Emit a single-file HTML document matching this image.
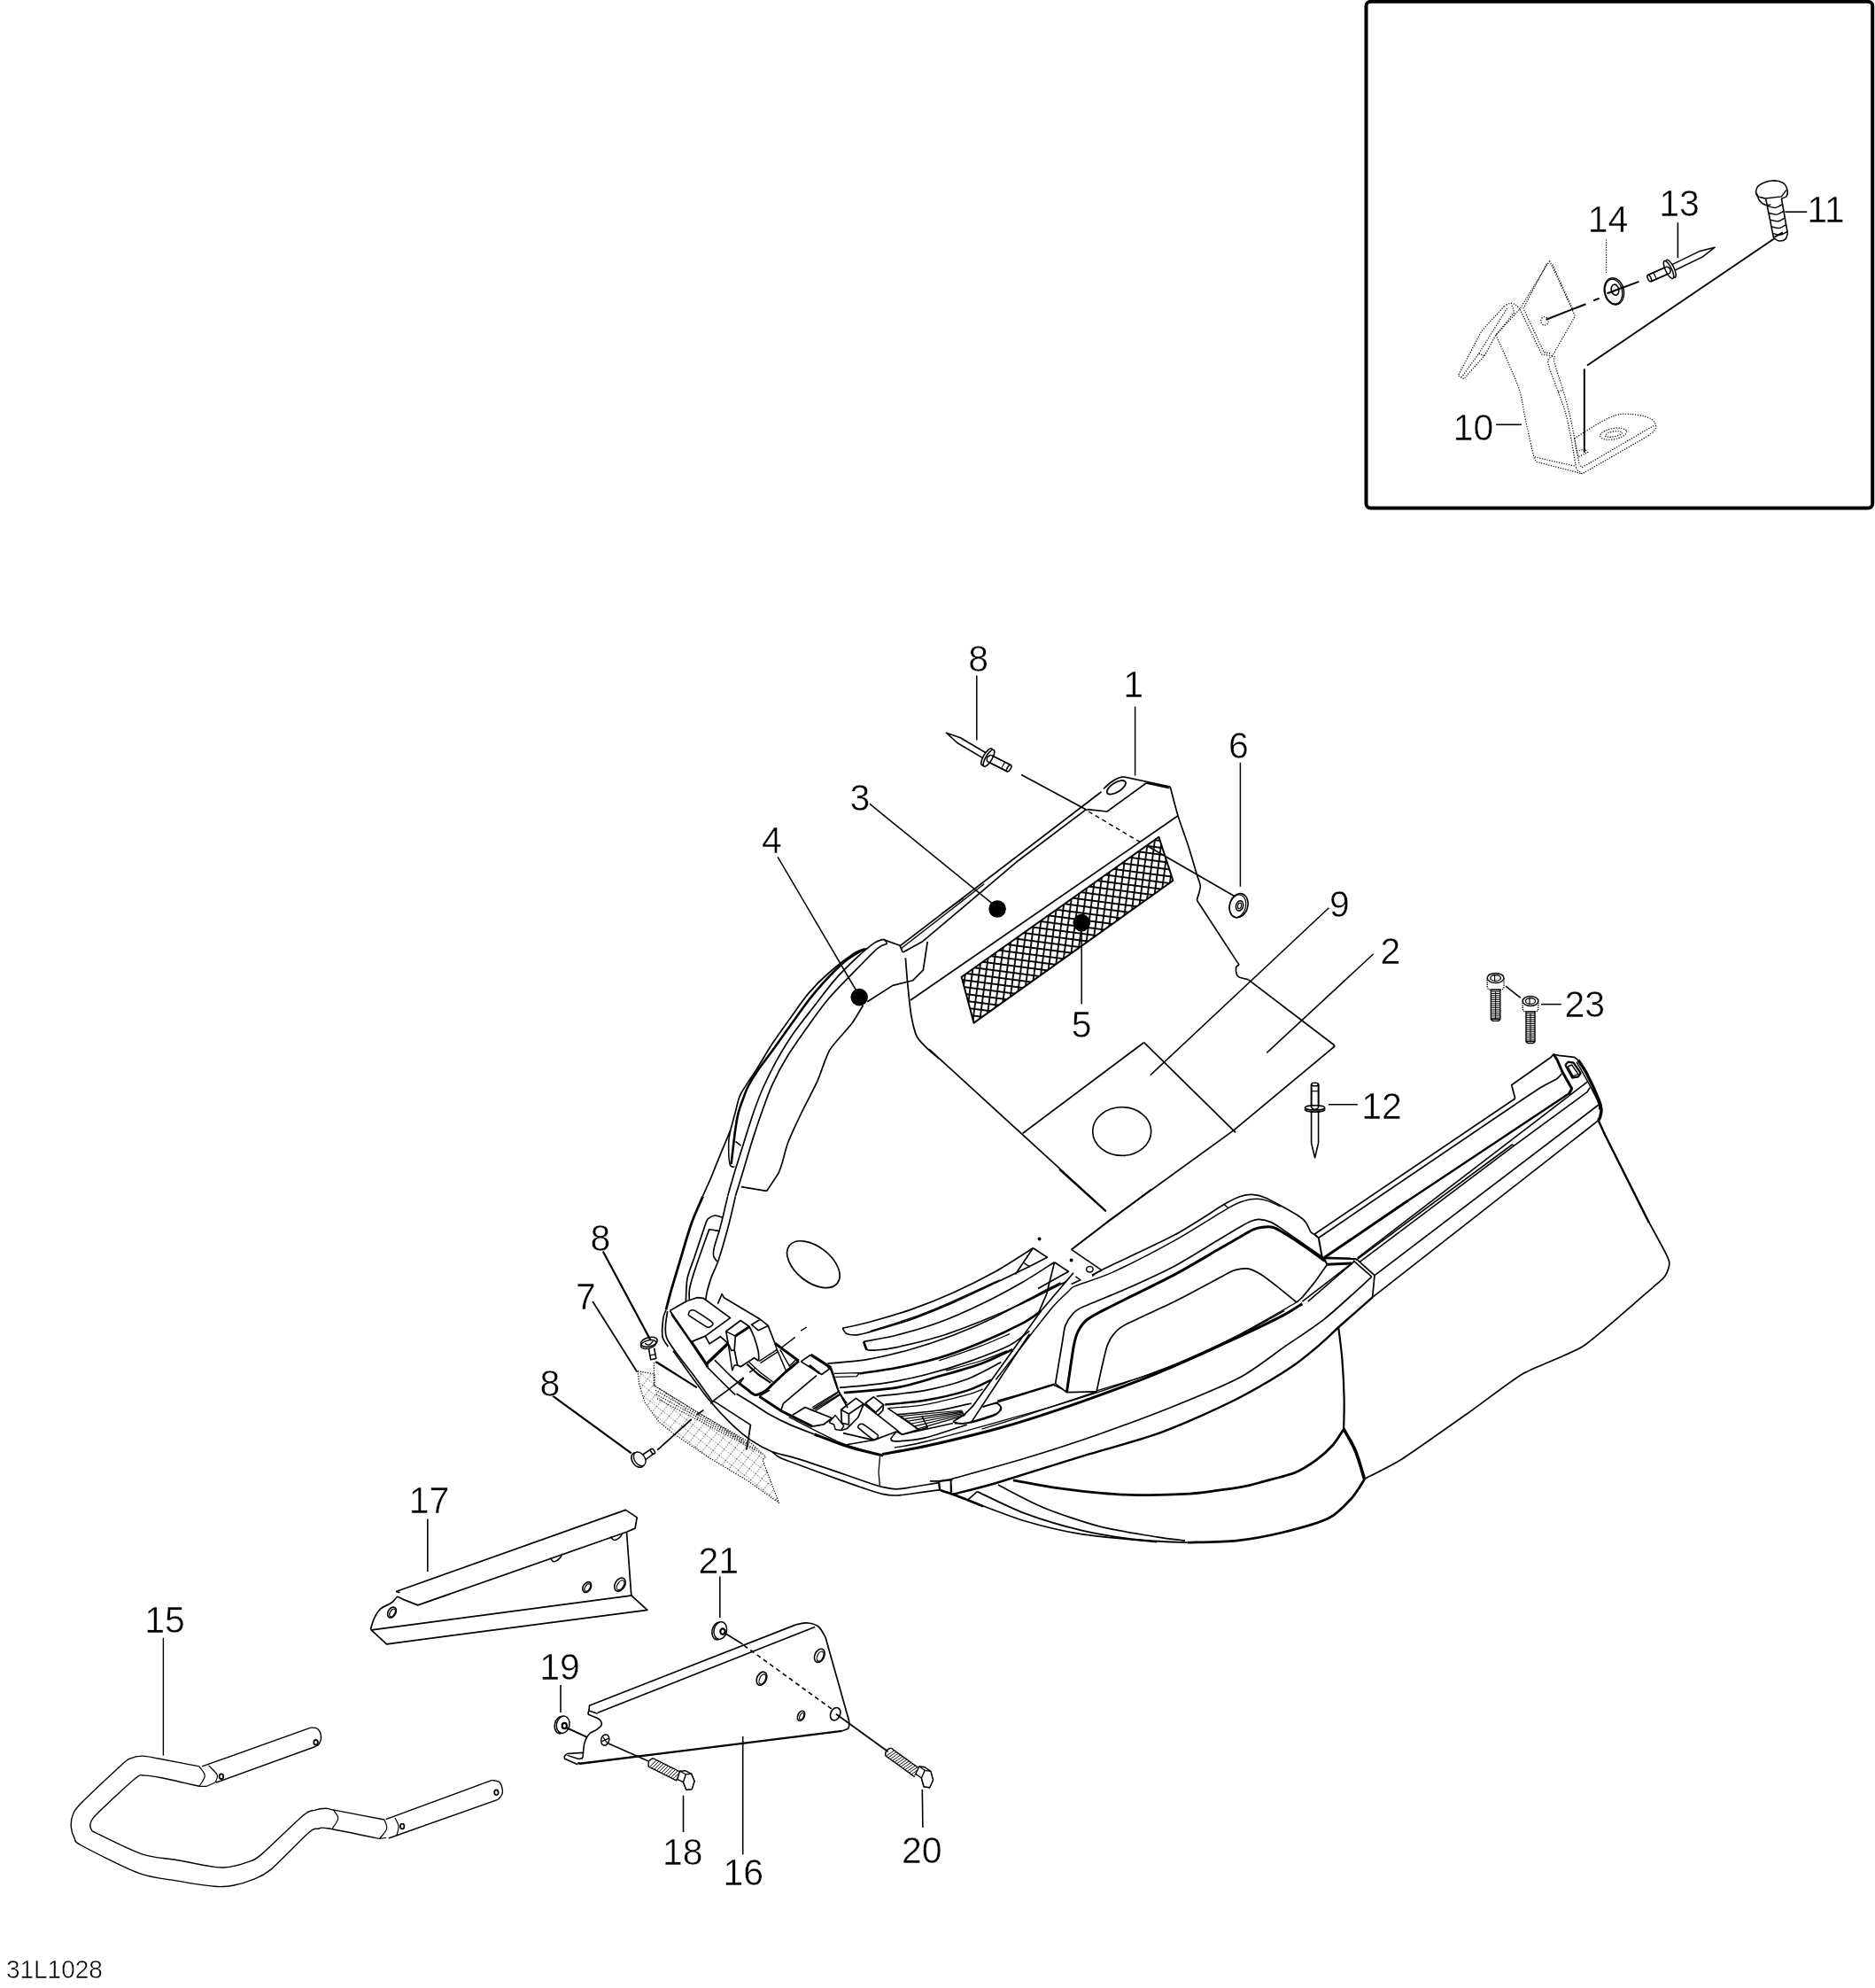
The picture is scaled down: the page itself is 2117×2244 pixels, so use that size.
<!DOCTYPE html>
<html><head><meta charset="utf-8"><title>31L1028</title>
<style>html,body{margin:0;padding:0;background:#fff}svg{display:block;will-change:transform}text{font-family:"Liberation Sans",sans-serif;fill:#000;stroke:#fff;stroke-width:0.5px}path,ellipse{stroke-linecap:butt;stroke-linejoin:round}</style></head>
<body>
<svg width="2117" height="2244" viewBox="0 0 2117 2244">
<defs>
<pattern id="mesh" width="7.7" height="7.7" patternUnits="userSpaceOnUse" patternTransform="rotate(7.5 1200 1050)">
<rect width="7.7" height="7.7" fill="#fff"/>
<path d="M0 3.85H7.7M3.85 0V7.7" stroke="#000" stroke-width="1.8" fill="none"/>
</pattern>
<pattern id="mesh7" width="9" height="9" patternUnits="userSpaceOnUse" patternTransform="rotate(38 800 1700)">
<path d="M0 0H9M0 0V9" stroke="#000" stroke-width="1.2" stroke-dasharray="1.2 1.6" fill="none"/>
</pattern>
</defs>
<rect x="1542.5" y="1.8" width="571.7" height="571.7" rx="5" ry="5" fill="none" stroke="#000" stroke-width="4"/>
<path d="M1813.6 270.4 L1813.6 309.6" fill="none" stroke="#000" stroke-width="1.2" stroke-dasharray="1.2 1.6"/>
<path d="M1894.4 251.2 L1894.4 291.2" fill="none" stroke="#000" stroke-width="1.6"/>
<ellipse cx="1822.4" cy="328.8" rx="10.9" ry="15.2" fill="none" stroke="#000" stroke-width="1.6" transform="rotate(-12 1822.4 328.8)"/>
<ellipse cx="1821.9" cy="329.1" rx="9.6" ry="14.1" fill="none" stroke="#000" stroke-width="1.2" transform="rotate(-12 1821.9 329.1)"/>
<ellipse cx="1823.5" cy="327.2" rx="4.2" ry="6.1" fill="none" stroke="#000" stroke-width="1.6" transform="rotate(-12 1823.5 327.2)"/>
<path d="M1745.6 360.8 L1790.4 343.2" fill="none" stroke="#000" stroke-width="2"/>
<path d="M1799.2 339.2 L1805.6 336.8" fill="none" stroke="#000" stroke-width="2"/>
<path d="M1814.4 331.2 L1850.4 317.9" fill="none" stroke="#000" stroke-width="2"/>
<path d="M1749.6 294.4 L1778.4 356.8 L1752.8 401.6 L1740.8 400 L1716 348.8 L1749.6 294.4" fill="none" stroke="#000" stroke-width="1.2" stroke-dasharray="1.2 1.6"/>
<path d="M1746.4 297.6 L1720 348 L1743.2 397.6 L1752 399.2" fill="none" stroke="#000" stroke-width="1.2" stroke-dasharray="1.2 1.6"/>
<path d="M1752.8 298.4 L1776 349.6" fill="none" stroke="#000" stroke-width="1.2" stroke-dasharray="1.2 1.6"/>
<ellipse cx="1744" cy="362.4" rx="4.2" ry="4.8" fill="none" stroke="#000" stroke-width="1.2" stroke-dasharray="1.2 1.6"/>
<path d="M1716 348.8 C1715.2 348 1713.1 345.1 1711.2 344 C1709.3 342.9 1706.9 342.1 1704.8 342.4 C1702.7 342.7 1699.5 345.1 1698.4 345.6" fill="none" stroke="#000" stroke-width="1.2" stroke-dasharray="1.2 1.6"/>
<path d="M1698.4 345.6 L1672.8 373.6 L1646.4 424 L1652.8 427.7 L1676 401.6 L1688.8 378.4 L1716 348.8" fill="none" stroke="#000" stroke-width="1.2" stroke-dasharray="1.2 1.6"/>
<path d="M1701.6 348 L1669.6 399.2 L1650.4 425.6" fill="none" stroke="#000" stroke-width="1.2" stroke-dasharray="1.2 1.6"/>
<path d="M1707.2 344.8 L1709.6 352.8 L1688.8 378.4" fill="none" stroke="#000" stroke-width="1.2" stroke-dasharray="1.2 1.6"/>
<path d="M1669.6 399.2 L1676 401.6" fill="none" stroke="#000" stroke-width="1.2" stroke-dasharray="1.2 1.6"/>
<path d="M1688.8 378 C1691.2 383.3 1698.7 399.3 1703.2 410 C1707.7 420.7 1712.8 431.3 1716 442 C1719.2 452.7 1719.7 461.6 1722.4 474 C1725.1 486.4 1730.4 509.3 1732 516.4" fill="none" stroke="#000" stroke-width="1.2" stroke-dasharray="1.2 1.6"/>
<path d="M1732 516.4 L1734.4 521.2 L1786.4 534.8" fill="none" stroke="#000" stroke-width="1.2" stroke-dasharray="1.2 1.6"/>
<path d="M1732.8 515.9 L1777.6 526" fill="none" stroke="#000" stroke-width="1.2" stroke-dasharray="1.2 1.6"/>
<path d="M1752.8 402 C1752 403.3 1746.9 403.3 1748 410 C1749.1 416.7 1755.6 431.3 1759.2 442 C1762.8 452.7 1766.1 459.3 1769.6 474 C1773.1 488.7 1778.3 520.7 1780 530" fill="none" stroke="#000" stroke-width="1.2" stroke-dasharray="1.2 1.6"/>
<path d="M1755.2 402 C1755.2 403.3 1753.6 403.6 1755.2 410 C1756.8 416.4 1761.7 429.7 1764.8 440.4 C1767.9 451.1 1770.5 460 1773.6 474 C1776.7 488 1781.6 516 1783.2 524.4" fill="none" stroke="#000" stroke-width="1.2" stroke-dasharray="1.2 1.6"/>
<path d="M1759.2 442 L1764.8 440.4" fill="none" stroke="#000" stroke-width="1.2" stroke-dasharray="1.2 1.6"/>
<path d="M1777.6 494.8 C1784.1 490.9 1806.5 476.2 1816.8 471.6 C1827.1 467 1831.5 467.1 1839.2 467.3 C1846.9 467.4 1858.1 469.8 1863.2 472.4 C1868.3 475 1869.9 479.6 1869.6 482.8 C1869.3 486 1862.9 490.1 1861.6 491.6" fill="none" stroke="#000" stroke-width="1.2" stroke-dasharray="1.2 1.6"/>
<path d="M1861.6 491.6 L1786.4 534.8 L1780 530" fill="none" stroke="#000" stroke-width="1.2" stroke-dasharray="1.2 1.6"/>
<path d="M1867.2 480.4 L1786.4 527.6 L1783.2 524.4" fill="none" stroke="#000" stroke-width="1.2" stroke-dasharray="1.2 1.6"/>
<path d="M1777.6 494.8 L1780 509.2" fill="none" stroke="#000" stroke-width="1.2" stroke-dasharray="1.2 1.6"/>
<ellipse cx="1821.6" cy="489.7" rx="15.2" ry="6.1" fill="none" stroke="#000" stroke-width="1.2" stroke-dasharray="1.2 1.6" transform="rotate(-10 1821.6 489.7)"/>
<ellipse cx="1821.9" cy="490" rx="9.6" ry="2.9" fill="none" stroke="#000" stroke-width="1.2" stroke-dasharray="1.2 1.6" transform="rotate(-10 1821.9 490)"/>
<path d="M1780 509.2 L1789.6 506.8 L1792.8 510.8 L1782.4 515.6 L1780 509.2" fill="none" stroke="#000" stroke-width="1.2" stroke-dasharray="1.2 1.6"/>
<path d="M1788.8 416.4 L1788.8 510.8" fill="none" stroke="#000" stroke-width="2"/>
<path d="M1792 412.5 L2003 269.5" fill="none" stroke="#000" stroke-width="2"/>
<path d="M1689.1 479.3 L1717.9 479.3" fill="none" stroke="#000" stroke-width="1.6"/>
<path d="M1883.4 300.8 L1919.3 283.4 L1936.2 279.2 L1922.4 289.9 L1886.6 307.2" fill="none" stroke="#000" stroke-width="1.5"/>
<path d="M1883.3 300.4 L1860.5 310.5" fill="none" stroke="#000" stroke-width="1.5"/>
<path d="M1886.7 307.6 L1864 317.7" fill="none" stroke="#000" stroke-width="1.5"/>
<ellipse cx="1862.3" cy="314.1" rx="1.8" ry="4" fill="#fff" stroke="#000" stroke-width="1.5" transform="rotate(154.2 1862.3 314.1)"/>
<path d="M1866.9 307.7 L1870.4 314.9" fill="none" stroke="#000" stroke-width="1.2"/>
<ellipse cx="1886.6" cy="303.2" rx="3.5" ry="10.9" fill="#fff" stroke="#000" stroke-width="1.5" transform="rotate(154.2 1886.6 303.2)"/>
<ellipse cx="1884" cy="304.5" rx="3.5" ry="10.9" fill="#fff" stroke="#000" stroke-width="1.5" transform="rotate(154.2 1884 304.5)"/>
<path d="M1860.5 310.5 L1882.3 300.9" fill="none" stroke="#000" stroke-width="1.5"/>
<path d="M1864 317.7 L1885.8 308.1" fill="none" stroke="#000" stroke-width="1.5"/>
<path d="M1882.3 300.9 C1882.9 301.3 1885.3 302.4 1885.8 303.6 C1886.4 304.8 1885.8 307.3 1885.8 308.1" fill="none" stroke="#000" stroke-width="1.5"/>
<path d="M1993 224 C1991.7 223.6 1986.7 222.9 1985 221.6 C1983.3 220.3 1982.3 218.1 1982.6 216 C1982.9 213.9 1983.5 210.8 1986.6 208.8 C1989.7 206.8 1996.6 204.4 2001 204 C2005.4 203.6 2010.2 204.8 2013 206.4 C2015.8 208 2017.1 211.1 2017.8 213.6 C2018.5 216.1 2018.1 219.9 2017 221.6 C2015.9 223.3 2012.3 223.6 2011.4 224" fill="none" stroke="#000" stroke-width="1.6"/>
<path d="M1983.4 218.4 C1983.9 219.7 1985 224.3 1986.6 226.4 C1988.2 228.5 1990.9 230.4 1993 231.2 C1995.1 232 1998.3 231.2 1999.4 231.2" fill="none" stroke="#000" stroke-width="1.6"/>
<path d="M1993 224 L2011.4 221.9 L2017 214.4" fill="none" stroke="#000" stroke-width="1.4"/>
<path d="M1993.8 224.8 L2002.6 268.8" fill="none" stroke="#000" stroke-width="1.6"/>
<path d="M2011.4 224 L2018.3 263.2" fill="none" stroke="#000" stroke-width="1.6"/>
<path d="M2002.6 268.8 C2003.7 269.3 2006.7 271.9 2009 272 C2011.3 272.1 2014.7 271.1 2016.2 269.6 C2017.7 268.1 2017.9 264.3 2018.3 263.2" fill="none" stroke="#000" stroke-width="1.6"/>
<path d="M1995.9 232.8 C1997.3 233.1 2001.9 234.8 2004.7 234.4 C2007.5 234 2011.3 231.1 2012.7 230.4" fill="none" stroke="#000" stroke-width="1.4"/>
<path d="M1997.3 240.5 C1998.8 240.7 2003.3 242.5 2006.1 242.1 C2008.9 241.7 2012.8 238.7 2014.1 238.1" fill="none" stroke="#000" stroke-width="1.4"/>
<path d="M1998.8 248.2 C2000.2 248.4 2004.8 250.2 2007.6 249.8 C2010.4 249.4 2014.2 246.4 2015.6 245.8" fill="none" stroke="#000" stroke-width="1.4"/>
<path d="M2000.2 255.8 C2001.7 256.1 2006.2 257.8 2009 257.4 C2011.8 257 2015.7 254.1 2017 253.4" fill="none" stroke="#000" stroke-width="1.4"/>
<path d="M2001.6 263.5 C2003.1 263.8 2007.6 265.5 2010.4 265.1 C2013.2 264.7 2017.1 261.8 2018.4 261.1" fill="none" stroke="#000" stroke-width="1.4"/>
<path d="M2003.4 267.7 L2013 262.4" fill="none" stroke="#000" stroke-width="2"/>
<path d="M2015.4 239.2 L2040.2 239.2" fill="none" stroke="#000" stroke-width="1.6"/>
<path d="M1016.3 1067.6 L1243.5 893.7" fill="none" stroke="#000" stroke-width="1.7"/>
<path d="M1246 890.4 C1247.3 889.2 1251.3 885.2 1254 883.2 C1256.7 881.2 1259.6 879.5 1262 878.4 C1264.4 877.3 1267.3 877.1 1268.4 876.8" fill="none" stroke="#000" stroke-width="1.7"/>
<path d="M1268.4 876.8 L1321.2 888" fill="none" stroke="#000" stroke-width="1.7"/>
<path d="M1019.5 1075.1 L1042 1062.4 L1080 1030.4 L1150 971.2 L1226.4 913.6" fill="none" stroke="#000" stroke-width="1.7"/>
<path d="M1227.6 913.6 L1250 916 L1294 884 L1320.4 889.6" fill="none" stroke="#000" stroke-width="1.7"/>
<path d="M1294.8 883.7 L1319.6 888" fill="none" stroke="#000" stroke-width="1.2"/>
<path d="M1017.3 1070.8 L1111.2 997.8" fill="none" stroke="#000" stroke-width="1.4"/>
<path d="M1063.2 1031.3 L1087.7 1013.8" fill="none" stroke="#000" stroke-width="1.4"/>
<ellipse cx="1260.4" cy="888.8" rx="12" ry="5.3" fill="none" stroke="#000" stroke-width="1.8" transform="rotate(-32 1260.4 888.8)"/>
<path d="M1321.2 888 C1322.4 892.4 1327.2 911.7 1330 920.8 C1332.8 929.9 1339.1 947 1342 956 C1344.9 965 1349.8 982 1351.6 988 C1353.4 994 1355.3 997.1 1355.3 1000.8 C1355.2 1004.5 1351.8 1014 1351.3 1016" fill="none" stroke="#000" stroke-width="1.7"/>
<path d="M1351.3 1016 L1397.2 1086.4" fill="none" stroke="#000" stroke-width="1.7"/>
<path d="M1397.2 1086.4 C1397.4 1086.7 1399 1088.1 1398.8 1088.8 C1398.6 1089.5 1395.9 1090.5 1395.6 1092 C1395.3 1093.5 1395.9 1098.5 1396.4 1100 C1396.9 1101.5 1397.9 1102.5 1399.6 1103.2 C1401.3 1103.9 1407.9 1105.3 1409.2 1105.6" fill="none" stroke="#000" stroke-width="1.7"/>
<path d="M1409.2 1105.6 L1506.8 1180" fill="none" stroke="#000" stroke-width="1.7"/>
<path d="M1330 920.8 L1028 1129" fill="none" stroke="#000" stroke-width="1.7"/>
<path d="M1308.4 944.8 L1324.4 994 L1099.5 1154.6 L1085.6 1102.8 Z" fill="url(#mesh)" stroke="#000" stroke-width="2"/>
<circle cx="1126.1" cy="1026" r="9.8" fill="#000"/>
<circle cx="1221.2" cy="1041.6" r="9.8" fill="#000"/>
<circle cx="970.2" cy="1125.6" r="9.8" fill="#000"/>
<path d="M996.8 1060.4 L1016 1067.3 L1019.2 1074.8" fill="none" stroke="#000" stroke-width="1.7"/>
<path d="M998.4 1059.9 L1001.6 1065.2" fill="none" stroke="#000" stroke-width="1.4"/>
<path d="M979.2 1070.8 C977.1 1071.5 973.6 1070.3 966.4 1074.8 C959.2 1079.3 944.8 1090.4 936 1098 C927.2 1105.6 921.1 1111.6 913.6 1120.4 C906.1 1129.2 898.1 1141.2 891.2 1150.8 C884.3 1160.4 878.1 1168.7 872 1178 C865.9 1187.3 859.2 1199.2 854.4 1206.8 C849.6 1214.4 846.4 1218.5 843.2 1223.6 C840 1228.7 837.3 1232 835.2 1237.2 C833.1 1242.4 832.1 1248.4 830.4 1254.8 C828.7 1261.2 825.7 1272.1 824.8 1275.6" fill="none" stroke="#000" stroke-width="1.7"/>
<path d="M824.8 1275.6 L812.8 1304.4 L803.2 1328.4 L793.6 1350" fill="none" stroke="#000" stroke-width="1.7"/>
<path d="M824.8 1275.6 C824.5 1278 822.9 1283.6 822.7 1290 C822.6 1296.4 822.9 1309.5 824 1314 C825.1 1318.5 828.7 1316.7 829.6 1317.2" fill="none" stroke="#000" stroke-width="1.5"/>
<path d="M976 1071.1 C972 1073.7 961.3 1078.6 952 1086.8 C942.7 1095 929.3 1109.5 920 1120.4 C910.7 1131.3 904 1141.5 896 1152.4 C888 1163.3 878.9 1176.4 872 1186 C865.1 1195.6 858.9 1203.3 854.4 1210 C849.9 1216.7 847.5 1220.7 844.8 1226 C842.1 1231.3 840.3 1236.9 838.4 1242 C836.5 1247.1 834.9 1251.1 833.6 1256.4 C832.3 1261.7 831.3 1267.9 830.4 1274 C829.5 1280.1 828.8 1286.5 828 1293.2 C827.2 1299.9 826 1310.5 825.6 1314" fill="none" stroke="#000" stroke-width="2.6"/>
<path d="M996.8 1060.4 C995.2 1061.1 992 1061.1 987.2 1064.4 C982.4 1067.7 975.2 1073.7 968 1080.4 C960.8 1087.1 952 1095.3 944 1104.4 C936 1113.5 928.3 1124.1 920 1134.8 C911.7 1145.5 901.6 1158 894.4 1168.4 C887.2 1178.8 882.1 1187.6 876.8 1197.2 C871.5 1206.8 866.4 1217.2 862.4 1226 C858.4 1234.8 855.7 1242 852.8 1250 C849.9 1258 847.5 1265.7 844.8 1274 C842.1 1282.3 839.5 1291.1 836.8 1299.6 C834.1 1308.1 831.3 1316.8 828.8 1325.2 C826.3 1333.6 822.8 1345.9 821.6 1350" fill="none" stroke="#000" stroke-width="1.7"/>
<path d="M1001.6 1065.2 C999.7 1066.1 996 1066.1 990.4 1070.8 C984.8 1075.5 977.1 1083.9 968 1093.2 C958.9 1102.5 945.3 1115.9 936 1126.8 C926.7 1137.7 920 1147.6 912 1158.8 C904 1170 894.7 1183.1 888 1194 C881.3 1204.9 876.8 1213.7 872 1224.4 C867.2 1235.1 862.9 1247.6 859.2 1258 C855.5 1268.4 852.8 1276.7 849.6 1286.8 C846.4 1296.9 843.2 1308.3 840 1318.8 C836.8 1329.3 832 1344.8 830.4 1350" fill="none" stroke="#000" stroke-width="1.7"/>
<path d="M830.4 1288.4 L836.5 1293.2" fill="none" stroke="#000" stroke-width="1.5"/>
<path d="M974.4 1134.8 C972.9 1137.2 966 1149.7 961.6 1155.6 C957.2 1161.5 941.3 1177.7 936.8 1185.2 C932.3 1192.7 927 1211.1 923.2 1219.6 C919.4 1228.1 907.9 1249.8 904 1258 C900.1 1266.2 892 1283.7 889.6 1290 C887.2 1296.3 884.5 1308.3 883.2 1312.4 C881.9 1316.5 880.5 1321.5 878.4 1325.2 C876.3 1328.9 867.1 1342.2 865.6 1344.4" fill="none" stroke="#000" stroke-width="1.7"/>
<path d="M865.6 1344.4 L836.8 1339.6" fill="none" stroke="#000" stroke-width="1.7"/>
<path d="M979.2 1130.8 L1008 1112.4 L1030.4 1106.8 L1042.4 1094.8 L1047.2 1062.8" fill="none" stroke="#000" stroke-width="1.7"/>
<path d="M1022.4 1081.2 C1022.7 1085.1 1023.9 1102.2 1024.8 1110.8 C1025.7 1119.4 1027.4 1138.1 1028.8 1146 C1030.2 1153.9 1032.6 1164.9 1035.2 1170 C1037.8 1175.1 1044.7 1181.1 1048 1184.4 C1051.3 1187.7 1058.4 1193.4 1060 1194.8" fill="none" stroke="#000" stroke-width="1.7"/>
<path d="M1049.1 1184.3 L1248.5 1366.7" fill="none" stroke="#000" stroke-width="1.7"/>
<path d="M793.6 1350.4 C791.5 1355.5 785.1 1368.8 780.8 1380.8 C776.5 1392.8 771.7 1410.1 768 1422.4 C764.3 1434.7 761.1 1445.1 758.4 1454.4 C755.7 1463.7 753.1 1474.4 752 1478.4" fill="none" stroke="#000" stroke-width="2.8"/>
<path d="M752 1478.4 C751.6 1479.7 749.3 1483.9 748.8 1488 C748.3 1492.1 747.3 1504.5 748 1508.8 C748.7 1513.1 753.5 1518.5 754.4 1520" fill="none" stroke="#000" stroke-width="1.7"/>
<path d="M753.6 1480 C753.5 1484.1 748.7 1500.6 752.8 1510.4 C756.9 1520.2 777.1 1544 784 1553.6 C790.9 1563.2 802 1578.6 804.8 1582.4" fill="none" stroke="#000" stroke-width="1.7"/>
<path d="M821.6 1350.4 L816 1374.4" fill="none" stroke="#000" stroke-width="1.7"/>
<path d="M816 1374.4 C814.8 1374.1 809.4 1371.8 807.2 1372 C805 1372.2 800.8 1374.2 799.2 1376 C797.6 1377.8 797.2 1379.8 795.2 1385.6 C793.2 1391.4 786.6 1411.5 784 1419.2 C781.4 1426.9 777.3 1436.6 776 1443.2 C774.7 1449.8 774.6 1465.4 774.4 1468.8" fill="none" stroke="#000" stroke-width="1.7"/>
<path d="M812 1389.6 C810.6 1389.4 803.3 1387.7 801.6 1388 C799.9 1388.3 801.5 1385.7 799.2 1392 C796.9 1398.3 786.8 1426.7 784 1435.2 C781.2 1443.7 779.1 1451.6 778.4 1456 C777.7 1460.4 778.4 1466.4 778.4 1468" fill="none" stroke="#000" stroke-width="1.7"/>
<path d="M816 1374.4 C815.5 1376.4 813.3 1385.1 812 1389.6 C810.7 1394.1 807.3 1404.3 806.4 1408 C805.5 1411.7 805.2 1415.5 805.6 1417.6 C806 1419.7 809.1 1423.1 809.6 1424" fill="none" stroke="#000" stroke-width="1.7"/>
<path d="M830.4 1350.4 C829.3 1354.9 825 1374.4 822.4 1384 C819.8 1393.6 813.8 1414.7 811.2 1422.4 C808.6 1430.1 804.9 1436.9 803.2 1441.6 C801.5 1446.3 799.3 1454.2 798.4 1457.6 C797.5 1461 797 1465.9 796.8 1467.2" fill="none" stroke="#000" stroke-width="1.7"/>
<ellipse cx="918.4" cy="1427.2" rx="34.4" ry="20" fill="none" stroke="#000" stroke-width="1.7" transform="rotate(38 918.4 1427.2)"/>
<path d="M756.4 1479.4 L775.2 1468.8 L786.9 1464.7 L794 1465.3 L824.5 1487.6 L796.3 1508.1 L780.5 1514.6 L756.4 1479.4" fill="none" stroke="#000" stroke-width="1.7"/>
<path d="M777.5 1482.9 C777.6 1482.4 778.7 1479.7 779.3 1479.4 C779.9 1479.1 782.5 1478.3 784.6 1479.4 C786.6 1480.4 802.3 1490.9 803.9 1492.3 C805.6 1493.6 805 1494.7 804.8 1495.2 C804.5 1495.7 801.6 1497.9 801 1498.1 C800.4 1498.3 799.4 1498.6 797.5 1497.5 C795.6 1496.5 779.8 1486.4 778.1 1485.2 C776.5 1484 777.4 1483.4 777.5 1482.9Z" fill="none" stroke="#000" stroke-width="1.6"/>
<path d="M780.5 1514.6 L797.5 1539.8 L798.7 1543.3" fill="none" stroke="#000" stroke-width="3.2"/>
<path d="M797.5 1539.8 L822.1 1516.3" fill="none" stroke="#000" stroke-width="3.4"/>
<path d="M796.3 1508.1 L801 1516.9 L813.3 1508.7 L822.1 1516.3" fill="none" stroke="#000" stroke-width="1.7"/>
<path d="M757.6 1483.5 L779.9 1515.1" fill="none" stroke="#000" stroke-width="1.3"/>
<path d="M822.1 1516.3 L819.8 1502.8 L836.2 1490.5 L846.2 1497.5 L830.3 1508.1 L829.2 1523.9 L825.7 1524.5 L822.1 1516.3" fill="none" stroke="#000" stroke-width="1.7"/>
<path d="M819.8 1502.8 L830.3 1508.1" fill="none" stroke="#000" stroke-width="1.4"/>
<path d="M830.3 1508.1 L846.2 1497.5" fill="none" stroke="#000" stroke-width="3"/>
<path d="M846.2 1497.5 C846.9 1499.1 850.1 1505.5 851.5 1509.3 C852.8 1513 855.5 1522.3 856.2 1525.7 C856.9 1529.1 856.7 1533.8 856.7 1535.1" fill="none" stroke="#000" stroke-width="1.7"/>
<path d="M829.2 1523.9 L832.7 1541 L836.2 1542.7 L851.5 1532.7 L856.7 1536.3" fill="none" stroke="#000" stroke-width="1.7"/>
<path d="M822.1 1516.3 L826.8 1546.8 L829.2 1541 L832.7 1541" fill="none" stroke="#000" stroke-width="1.5"/>
<path d="M810.4 1471.7 L815.1 1460.6 L817.4 1464.7 L858.5 1489.3 L867.3 1496.4 L874.9 1516.3" fill="none" stroke="#000" stroke-width="1.7"/>
<path d="M858.5 1489.3 L848.5 1495.2 L856.2 1501.7 L867.3 1496.4" fill="none" stroke="#000" stroke-width="1.7"/>
<path d="M874.9 1516.3 L901.9 1536.3" fill="none" stroke="#000" stroke-width="3"/>
<path d="M874.9 1516.3 L877.3 1523.4 L887.8 1548" fill="none" stroke="#000" stroke-width="1.5"/>
<path d="M877.3 1523.4 L857.3 1536.3" fill="none" stroke="#000" stroke-width="1.4"/>
<path d="M878.5 1525.7 L858.5 1538.6" fill="none" stroke="#000" stroke-width="1.4"/>
<path d="M880.8 1523.4 L891.4 1542.1 L898.4 1535.1" fill="none" stroke="#000" stroke-width="1.4"/>
<path d="M798.7 1543.3 C801.1 1545.8 820.1 1564.8 823.3 1567.9 C826.5 1571.1 829.6 1573.8 830.3 1574.4" fill="none" stroke="#000" stroke-width="1.7"/>
<path d="M831.5 1573.2 C834.2 1574.9 846.5 1582.4 851.5 1585.5 C856.5 1588.7 863.6 1593.6 869.1 1596.7 C874.5 1599.7 885.8 1605.5 892.5 1608.4 C899.3 1611.4 915.9 1617.6 919.5 1619" fill="none" stroke="#000" stroke-width="1.7"/>
<path d="M919.5 1619 C922.2 1620 934.1 1624.7 939.5 1626.6 C944.9 1628.6 952.3 1631.5 960 1633.7 C967.7 1635.8 992 1641.8 997 1643" fill="none" stroke="#000" stroke-width="3"/>
<path d="M806.9 1535.1 C809.4 1537.6 822.1 1550.4 825.7 1553.9 C829.3 1557.3 832.8 1560 833.9 1560.9" fill="none" stroke="#000" stroke-width="1.7"/>
<path d="M833.9 1560.9 C835.3 1562 840.4 1565.9 843.3 1567.9 C846.1 1570 849.5 1574.1 852.6 1574.4 C855.8 1574.7 861.4 1571.6 864.4 1569.7 C867.4 1567.9 871.4 1563.2 872.6 1562.1" fill="none" stroke="#000" stroke-width="3"/>
<path d="M872.6 1562.1 L887.8 1548 L901.9 1536.3" fill="none" stroke="#000" stroke-width="3"/>
<path d="M843.3 1539.8 L856.2 1551.5 L870.2 1560.9" fill="none" stroke="#000" stroke-width="2.2"/>
<path d="M845.6 1537.4 L858.5 1549.2 L872.6 1559.7" fill="none" stroke="#000" stroke-width="1.4"/>
<path d="M805.7 1580.9 L823.3 1567.9 L839.7 1555" fill="none" stroke="#000" stroke-width="1.7"/>
<path d="M904.3 1536.9 L915.4 1529.2" fill="none" stroke="#000" stroke-width="1.7"/>
<path d="M915.4 1529.2 L938.3 1543.9" fill="none" stroke="#000" stroke-width="3.2"/>
<path d="M938.3 1543.9 L927.7 1551.5 L904.3 1536.9" fill="none" stroke="#000" stroke-width="1.7"/>
<path d="M913.7 1541 L925.4 1550.3" fill="none" stroke="#000" stroke-width="2.4"/>
<path d="M938.3 1543.9 C938.8 1545.2 940.7 1550.5 941.8 1553.9 C942.9 1557.2 945.3 1565.8 946.5 1569.1 C947.8 1572.4 949.8 1575.8 951.2 1578.5 C952.6 1581.2 956.3 1587.7 957.1 1589.1" fill="none" stroke="#000" stroke-width="1.7"/>
<path d="M921.9 1552.7 L884.3 1584.4 L882 1591.4" fill="none" stroke="#000" stroke-width="1.7"/>
<path d="M857.3 1576.2 L882 1592.6 L917.2 1610.2" fill="none" stroke="#000" stroke-width="3"/>
<path d="M857.3 1576.2 L869.1 1569.1" fill="none" stroke="#000" stroke-width="1.5"/>
<path d="M917.2 1610.2 L930.1 1607.8 L939.5 1600.8 L916 1591.4 L909 1588.5 L894.9 1597.3" fill="none" stroke="#000" stroke-width="1.7"/>
<path d="M917.2 1588.5 L946.5 1570.9" fill="none" stroke="#000" stroke-width="1.4"/>
<path d="M919.5 1590.8 L948.9 1573.2" fill="none" stroke="#000" stroke-width="1.4"/>
<path d="M741.2 1536.9 L786.9 1566.2" fill="none" stroke="#000" stroke-width="1.7"/>
<path d="M802.2 1584.4 L805.7 1581.4 L847.4 1608.4 L845 1624.3 L842.7 1636.6" fill="none" stroke="#000" stroke-width="1.7"/>
<path d="M904.3 1502.2 L910.7 1498.1" fill="none" stroke="#000" stroke-width="1.5"/>
<path d="M882.6 1521 L897.8 1509.3" fill="none" stroke="#000" stroke-width="1.5"/>
<path d="M846.2 1549.2 L852.6 1544.5" fill="none" stroke="#000" stroke-width="1.5"/>
<path d="M835.6 1560.9 L839.7 1555.6" fill="none" stroke="#000" stroke-width="1.5"/>
<path d="M934.4 1543.2 C934.9 1543.7 936.8 1543.7 938.4 1547.2 C940 1550.7 944.1 1564.7 946.4 1569.6 C948.7 1574.5 954.7 1582.1 956 1584" fill="none" stroke="#000" stroke-width="1.7"/>
<path d="M917.6 1590.4 L946.4 1572" fill="none" stroke="#000" stroke-width="1.4"/>
<path d="M920 1592.8 L948 1574.7" fill="none" stroke="#000" stroke-width="1.4"/>
<path d="M949.6 1591.2 L966.4 1578.4 L975.2 1584.8 L958.4 1596 L949.6 1591.2 L950.4 1606.4 L958.4 1608 L958.4 1596" fill="none" stroke="#000" stroke-width="1.7"/>
<path d="M936 1605.6 L943.2 1597.6 L952.8 1609.6 L949.6 1614.4 L943.2 1613.6 L941.6 1608 L936 1605.6" fill="none" stroke="#000" stroke-width="1.5"/>
<path d="M976.8 1584 L986.4 1576.8 L997.6 1585.6 L988.8 1594.4 L976.8 1584" fill="none" stroke="#000" stroke-width="1.7"/>
<path d="M997.6 1585.6 L996.8 1592 L991.2 1597.6" fill="none" stroke="#000" stroke-width="1.7"/>
<path d="M975.2 1584.8 L1012 1613.6" fill="none" stroke="#000" stroke-width="1.7"/>
<path d="M1002.4 1589.6 L1037.6 1613.6 L1018.4 1619.2 L1012 1613.6" fill="none" stroke="#000" stroke-width="1.7"/>
<path d="M968.8 1611.2 C967.7 1609.8 970.7 1607.8 971.2 1607.5 C971.7 1607.3 973.5 1607 975.2 1608 C976.9 1609 990 1618.7 991.2 1620 C992.4 1621.3 990.1 1623.6 989.6 1624 C989.1 1624.4 986.5 1625.4 984.8 1624.3 C983.1 1623.3 969.9 1612.6 968.8 1611.2Z" fill="none" stroke="#000" stroke-width="1.6"/>
<path d="M956 1612.8 L968.8 1600 L975.2 1584.8" fill="none" stroke="#000" stroke-width="1.7"/>
<path d="M952 1617.6 L986.4 1625.6 L1012 1616" fill="none" stroke="#000" stroke-width="1.7"/>
<path d="M952.8 1631.2 L986.4 1625.6" fill="none" stroke="#000" stroke-width="1.5"/>
<path d="M949.6 1614.4 L956 1612.8" fill="none" stroke="#000" stroke-width="1.5"/>
<path d="M951.2 1499.2 C955 1498.3 969.8 1495.6 980 1492.8 C990.2 1490 1015.2 1482.9 1028 1478.4 C1040.8 1473.9 1063.2 1465 1076 1459.2 C1088.8 1453.4 1111.9 1441.9 1124 1435.2 C1136.1 1428.5 1160.7 1412.3 1166.4 1408.8" fill="none" stroke="#000" stroke-width="1.7"/>
<path d="M951.2 1499.2 C951.8 1500.1 953.9 1504.6 956 1505.6 C958.1 1506.6 964 1507.1 967.2 1506.9 C970.4 1506.7 971.9 1506.3 980 1504 C988.1 1501.7 1015.2 1494.1 1028 1489.6 C1040.8 1485.1 1063.2 1475.9 1076 1470.4 C1088.8 1464.9 1112.5 1453.4 1124 1448 C1135.5 1442.6 1157.3 1432.1 1162.4 1429.6" fill="none" stroke="#000" stroke-width="1.7"/>
<path d="M983.2 1502.4 C989.8 1500.3 1020.4 1490.9 1032.8 1486.4 C1045.2 1481.9 1063.2 1474.3 1076 1468.8 C1088.8 1463.3 1121.8 1448 1128.8 1444.8" fill="none" stroke="#000" stroke-width="1.4"/>
<path d="M1166.4 1408.8 L1182.4 1419.2 L1162.4 1429.6 L1156 1425.6" fill="none" stroke="#000" stroke-width="1.7"/>
<path d="M1166.4 1408.8 L1146.4 1438.4" fill="none" stroke="#000" stroke-width="1.7"/>
<path d="M975.2 1514.4 C980.1 1513.4 1000.7 1510.1 1012 1507.2 C1023.3 1504.3 1047.2 1497.5 1060 1492.8 C1072.8 1488.1 1095.2 1478.2 1108 1472 C1120.8 1465.8 1145 1452.7 1156 1446.4 C1167 1440.1 1185.8 1427.7 1190.4 1424.8" fill="none" stroke="#000" stroke-width="1.7"/>
<path d="M975.2 1514.4 C975.6 1515.6 976.5 1521.9 978.4 1523.2 C980.3 1524.5 985.1 1524.3 989.6 1524 C994.1 1523.7 1002.6 1522.8 1012 1520.8 C1021.4 1518.8 1047.2 1512.7 1060 1508.8 C1072.8 1504.9 1095.2 1496.3 1108 1491.2 C1120.8 1486.1 1143.2 1476.4 1156 1470.4 C1168.8 1464.4 1197.6 1449.6 1204 1446.4" fill="none" stroke="#000" stroke-width="1.7"/>
<path d="M975.2 1514.4 L978.4 1523.2" fill="none" stroke="#000" stroke-width="2.6"/>
<path d="M1190.4 1424.8 L1206.4 1435.2 L1172 1454.4" fill="none" stroke="#000" stroke-width="1.7"/>
<path d="M1190.4 1425.6 L1181.6 1460.8 L1172 1483.2" fill="none" stroke="#000" stroke-width="1.7"/>
<path d="M934.4 1539.2 C940.5 1538.6 967.5 1536.5 980 1534.4 C992.5 1532.3 1015.2 1526.8 1028 1523.2 C1040.8 1519.6 1063.2 1512.1 1076 1507.2 C1088.8 1502.3 1110.8 1492.8 1124 1486.4 C1137.2 1480 1165.4 1464.3 1175.2 1459.2 C1185 1454.1 1194.6 1449.5 1197.6 1448" fill="none" stroke="#000" stroke-width="1.7"/>
<path d="M970.4 1550.4 C975.9 1549.5 1000.1 1546.3 1012 1544 C1023.9 1541.7 1047.2 1536.6 1060 1532.8 C1072.8 1529 1095.2 1520.5 1108 1515.2 C1120.8 1509.9 1147 1497.5 1156 1492.8 C1165 1488.1 1172.6 1481.7 1175.2 1480" fill="none" stroke="#000" stroke-width="2.6"/>
<path d="M941.6 1550.4 L970.4 1549.6 L967.2 1553.6 L943.2 1554.4" fill="none" stroke="#000" stroke-width="1.4"/>
<path d="M1060 1536 C1066.4 1533.8 1097.3 1523.3 1108 1519.2 C1118.7 1515.1 1135.7 1507.4 1140 1505.6" fill="none" stroke="#000" stroke-width="1.3"/>
<path d="M948 1566.4 C954.4 1565.8 983.2 1563.5 996 1561.6 C1008.8 1559.7 1031.2 1555.2 1044 1552 C1056.8 1548.8 1079.2 1542.1 1092 1537.6 C1104.8 1533.1 1130.6 1523.1 1140 1518.4 C1149.4 1513.7 1159.4 1504.5 1162.4 1502.4" fill="none" stroke="#000" stroke-width="1.7"/>
<path d="M952.8 1572 C960.7 1571.3 997.7 1568.9 1012 1566.4 C1026.3 1563.9 1047.2 1557.2 1060 1553.6 C1072.8 1550 1096.9 1543.3 1108 1539.2 C1119.1 1535.1 1138.5 1525.3 1143.2 1523.2" fill="none" stroke="#000" stroke-width="2.6"/>
<path d="M1068 1547.2 C1073.3 1545.7 1098.8 1539 1108 1536 C1117.2 1533 1133 1526.3 1136.8 1524.8" fill="none" stroke="#000" stroke-width="1.3"/>
<path d="M989.6 1576 C996.9 1575.1 1030.3 1572.2 1044 1569.6 C1057.7 1567 1080.5 1561.1 1092 1556.8 C1103.5 1552.5 1125.3 1540.2 1130.4 1537.6" fill="none" stroke="#000" stroke-width="1.7"/>
<path d="M999.2 1585.6 C1005.2 1585 1031.6 1582.9 1044 1580.8 C1056.4 1578.7 1082 1572.7 1092 1569.6 C1102 1566.5 1115.6 1559.2 1119.2 1557.6" fill="none" stroke="#000" stroke-width="2.4"/>
<path d="M1002.4 1589.6 C1007.9 1589.1 1032.1 1587.6 1044 1585.6 C1055.9 1583.6 1083.3 1576.7 1092 1574.4 C1100.7 1572.1 1107.3 1568.9 1109.6 1568" fill="none" stroke="#000" stroke-width="1.4"/>
<path d="M1012 1596.8 C1018.4 1596.2 1048.7 1593.7 1060 1592 C1071.3 1590.3 1091.9 1585.1 1096.8 1584" fill="none" stroke="#000" stroke-width="1.7"/>
<path d="M1018.4 1598.4 L1086.4 1592" fill="none" stroke="#000" stroke-width="1.2"/>
<path d="M1021.9 1601.3 L1087 1593.1" fill="none" stroke="#000" stroke-width="1.2"/>
<path d="M1025.4 1604.2 L1087.7 1594.2" fill="none" stroke="#000" stroke-width="1.2"/>
<path d="M1029 1607 L1088.3 1595.4" fill="none" stroke="#000" stroke-width="1.2"/>
<path d="M1032.5 1609.9 L1089 1596.5" fill="none" stroke="#000" stroke-width="1.2"/>
<path d="M1036 1612.8 L1089.6 1597.6" fill="none" stroke="#000" stroke-width="1.2"/>
<path d="M1016.8 1598.4 L1037.6 1614.4 L1047.2 1611.2 L1040.8 1598.4" fill="none" stroke="#000" stroke-width="1.5"/>
<path d="M1212 1436.8 L1175.2 1480 L1098.4 1587.2 L1088.8 1596.8 L1076 1604.8" fill="none" stroke="#000" stroke-width="1.7"/>
<path d="M1162.4 1505.6 L1096 1606.4" fill="none" stroke="#000" stroke-width="1.7"/>
<path d="M1076 1604.8 C1077.7 1605.1 1082.6 1607.8 1088.8 1606.7 C1095 1605.7 1116.9 1599 1122.4 1596.8 C1127.9 1594.6 1130 1592.1 1130.4 1590.4 C1130.8 1588.7 1128.4 1584.3 1125.6 1584 C1122.8 1583.7 1111.7 1587.5 1109.6 1588" fill="none" stroke="#000" stroke-width="1.7"/>
<path d="M1109.6 1588 L1189.6 1563.2 L1200 1568" fill="none" stroke="#000" stroke-width="1.7"/>
<path d="M1005.6 1624 C1006.2 1624.4 1005.3 1627 1010.4 1626.9 C1015.5 1626.8 1033.1 1625.7 1044 1623.2 C1054.9 1620.7 1085.6 1610 1092 1608" fill="none" stroke="#000" stroke-width="1.7"/>
<path d="M1005.6 1624 L1012 1616 L1018.4 1619.2 L1076 1606.4" fill="none" stroke="#000" stroke-width="1.5"/>
<path d="M1214.4 1440.8 L1220 1444.8 L1209.6 1449.6" fill="none" stroke="#000" stroke-width="1.6"/>
<ellipse cx="1230.4" cy="1432.8" rx="3.8" ry="3.2" fill="none" stroke="#000" stroke-width="1.5"/>
<ellipse cx="1173.6" cy="1398.4" rx="1.1" ry="1.1" fill="none" stroke="#000" stroke-width="1.8"/>
<ellipse cx="1209.6" cy="1422.4" rx="1.1" ry="1.1" fill="none" stroke="#000" stroke-width="1.8"/>
<path d="M760 1524.8 C762.8 1528.7 772.5 1542.5 778.7 1550.9 C784.9 1559.3 794.1 1572.4 801.1 1580.8 C808.1 1589.2 818.3 1600.2 825.3 1606.9 C832.3 1613.6 840.7 1620.8 847.7 1625.6 C854.7 1630.4 864.2 1635.6 872 1638.7 C879.8 1641.8 888.6 1642.8 900 1646.4 C911.4 1650 936 1658.3 948 1662.4 C960 1666.5 972.8 1671.1 980 1673.5 C987.2 1675.9 991.2 1677.3 996 1678.4 C1000.8 1679.5 1006.9 1680.8 1012 1680.8 C1017.1 1680.8 1022.8 1679.6 1030 1678.5 C1037.2 1677.4 1055.5 1674.3 1060 1673.6" fill="none" stroke="#000" stroke-width="1.7"/>
<path d="M872 1638.7 C873.2 1639.6 875.8 1642.9 880 1645 C884.2 1647.1 889.8 1649 900 1652.8 C910.2 1656.6 936 1666.1 948 1670.4 C960 1674.7 972.8 1679.1 980 1681.5 C987.2 1683.9 991.2 1685.4 996 1686.4 C1000.8 1687.4 1006.9 1688.1 1012 1688 C1017.1 1687.9 1022.6 1687 1030 1686 C1037.4 1685 1056.9 1682.3 1061.6 1681.6" fill="none" stroke="#000" stroke-width="1.7"/>
<path d="M890.7 1599.5 C898.1 1603.2 933 1621.7 946.7 1627.5 C960.4 1633.2 987.1 1640.4 993.3 1642.4" fill="none" stroke="#000" stroke-width="1.3"/>
<path d="M993.5 1644 L992 1662 L993.5 1678" fill="none" stroke="#000" stroke-width="1.3"/>
<path d="M1060.5 1672.3 L1061.5 1682.5" fill="none" stroke="#000" stroke-width="1.5"/>
<path d="M1073.6 1670.4 L1074.5 1684.4" fill="none" stroke="#000" stroke-width="1.5"/>
<path d="M1060.5 1672.3 L1075.5 1670.4" fill="none" stroke="#000" stroke-width="1.5"/>
<path d="M1062.4 1682.5 C1064.4 1683.2 1071 1684.8 1077.3 1687.2 C1083.7 1689.6 1105.7 1698.5 1110 1700.3" fill="none" stroke="#000" stroke-width="2.6"/>
<path d="M740 1537.2 L786.4 1566" fill="none" stroke="#000" stroke-width="1.7"/>
<path d="M720 1547.6 L739 1551 L739 1564 L787 1594 L848 1629 L864.5 1644.3 L861 1648 L879.5 1696.5 L845 1672 L800 1645 L760 1618 L744 1605 L728 1583 L721.6 1562 Z" fill="url(#mesh7)" stroke="#000" stroke-width="1.2" stroke-dasharray="1.2 1.6"/>
<path d="M739.2 1564.4 L840 1626" fill="none" stroke="#000" stroke-width="1.1" stroke-dasharray="1.2 1.6"/>
<path d="M740.2 1569.2 L846.4 1630.8" fill="none" stroke="#000" stroke-width="1.1" stroke-dasharray="1.2 1.6"/>
<path d="M741.1 1574 L852.8 1635.6" fill="none" stroke="#000" stroke-width="1.1" stroke-dasharray="1.2 1.6"/>
<path d="M742.1 1578.8 L859.2 1640.4" fill="none" stroke="#000" stroke-width="1.1" stroke-dasharray="1.2 1.6"/>
<path d="M1507.1 1180.9 L1392.9 1275.9 L1250 1379.3" fill="none" stroke="#000" stroke-width="1.7"/>
<path d="M1250 1379.3 L1210.1 1410.4" fill="none" stroke="#000" stroke-width="1.7"/>
<path d="M1506.8 1180 L1505 1183" fill="none" stroke="#000" stroke-width="1.7"/>
<path d="M1395.1 1278.4 L1291.6 1176.7" fill="none" stroke="#000" stroke-width="1.7"/>
<path d="M1291.6 1176.7 L1154.8 1279.2" fill="none" stroke="#000" stroke-width="1.7"/>
<ellipse cx="1266.7" cy="1277.1" rx="33" ry="27.3" fill="none" stroke="#000" stroke-width="1.6"/>
<path d="M1233.2 1440.4 C1234.9 1439.3 1233.6 1438.6 1246 1432.4 C1258.4 1426.2 1307.9 1403.7 1326 1394 C1344.1 1384.3 1372.2 1365.4 1382 1359.6 C1391.8 1353.8 1395.3 1352.3 1399.6 1350.8 C1403.9 1349.3 1409.9 1348.2 1414 1348.4 C1418.1 1348.6 1422.9 1349.1 1430 1352.4 C1437.1 1355.7 1461.2 1369.4 1467.2 1373.2 C1473.2 1377 1473.5 1378.9 1475.2 1381.2 C1476.9 1383.5 1478.8 1389.2 1480 1390.8 C1481.2 1392.4 1483.5 1392.9 1484 1393.2" fill="none" stroke="#000" stroke-width="1.7"/>
<path d="M1124.4 1557.2 C1127.8 1552.8 1141.5 1535.3 1150 1524.4 C1158.5 1513.5 1180.9 1484.5 1188.4 1475.6 C1195.9 1466.7 1202.6 1461.2 1206 1458 C1209.4 1454.8 1207.4 1454.5 1214 1451.6 C1220.6 1448.7 1240.7 1443.2 1255.6 1436.4 C1270.5 1429.6 1308.5 1410.1 1326 1400.4 C1343.5 1390.7 1376.3 1369.6 1386.8 1363.6 C1397.3 1357.6 1400.1 1357 1404.4 1355.6 C1408.7 1354.2 1415.2 1353.2 1418.8 1353.2 C1422.4 1353.2 1428 1354.4 1431.6 1355.6 C1435.2 1356.8 1444.1 1361.1 1446 1362" fill="none" stroke="#000" stroke-width="1.5"/>
<path d="M1382 1359.6 L1386.8 1363.6" fill="none" stroke="#000" stroke-width="1.3"/>
<path d="M1191.6 1562 C1192.7 1555.6 1198.1 1522.7 1199.6 1514 C1201.1 1505.3 1201.3 1500.5 1202.8 1496.4 C1204.3 1492.3 1208.2 1486.4 1210.8 1483.6 C1213.4 1480.8 1213.9 1479.4 1222 1475.6 C1230.1 1471.8 1257.7 1461 1271.6 1454.8 C1285.5 1448.6 1312.3 1436.4 1326 1429.2 C1339.7 1422 1364.2 1406.4 1374 1400.6 C1383.8 1394.7 1394.5 1388.1 1399.6 1385.2 C1404.7 1382.3 1409.4 1379.7 1412.4 1378.5 C1415.4 1377.3 1419 1376.3 1422 1376.4 C1425 1376.5 1431.7 1378.1 1435.2 1379.6 C1438.7 1381.1 1444.2 1385 1448 1387.6 C1451.8 1390.2 1457.8 1394.5 1464 1398.8 C1470.2 1403.1 1490.3 1416.8 1494.4 1419.6" fill="none" stroke="#000" stroke-width="1.7"/>
<path d="M1191.6 1562 L1204.4 1571.6 L1238 1570.8" fill="none" stroke="#000" stroke-width="1.7"/>
<path d="M1204.4 1571.6 C1205.5 1564.6 1210.7 1528 1212.4 1518.8 C1214.1 1509.6 1215.3 1506.6 1217.2 1502.8 C1219.1 1499 1223 1493.2 1226.8 1490 C1230.6 1486.8 1232.8 1485.6 1246 1478.8 C1259.2 1472 1308.9 1447.8 1326 1438.8 C1343.1 1429.8 1363.5 1417.3 1374 1411.3 C1384.5 1405.3 1398.9 1396.8 1404.4 1393.7 C1409.9 1390.5 1412.8 1388.7 1415.6 1387.6 C1418.4 1386.5 1422.4 1385.5 1425.2 1385.2 C1428 1384.9 1433.8 1384.5 1436.8 1385.2 C1439.8 1385.9 1442.9 1387.7 1448 1390.8 C1453.1 1393.9 1468.8 1404 1475.2 1408.4 C1481.6 1412.8 1493.2 1421.6 1496 1423.6" fill="none" stroke="#000" stroke-width="3"/>
<path d="M1238 1570.8 C1239.1 1566 1244.3 1541.9 1246 1534.8 C1247.7 1527.7 1249.1 1521.3 1250.8 1517.2 C1252.5 1513.1 1256 1507.4 1258.8 1504.4 C1261.6 1501.4 1262.6 1499.5 1271.6 1494.8 C1280.6 1490.1 1313.4 1475.4 1326 1469.2 C1338.6 1463 1357.9 1452.5 1366 1448.2 C1374.1 1443.9 1382.7 1438.9 1386.8 1436.9 C1390.9 1434.9 1393.4 1433.8 1396.4 1433.2 C1399.4 1432.6 1405.9 1431.3 1409.6 1432.1 C1413.3 1432.8 1419.5 1436 1424 1438.8 C1428.5 1441.6 1437.9 1449 1443.2 1453.2 C1448.5 1457.4 1461.2 1467.8 1464 1470" fill="none" stroke="#000" stroke-width="1.7"/>
<path d="M1238 1570 C1248.5 1566.7 1296.1 1552.9 1316.4 1545.2 C1336.7 1537.5 1372.2 1521.1 1390 1512.4 C1407.8 1503.7 1442 1484 1450 1479.6" fill="none" stroke="#000" stroke-width="1.4"/>
<path d="M1108.4 1613.2 L1150 1600.4 L1238 1570.8" fill="none" stroke="#000" stroke-width="1.4"/>
<path d="M1126 1581.2 L1150 1574.5 L1190.8 1562" fill="none" stroke="#000" stroke-width="1.7"/>
<path d="M1124.7 1583.3 C1125.4 1584 1130.1 1586.8 1130 1588.7 C1129.9 1590.5 1128.2 1594.9 1123.6 1597.2 C1119 1599.5 1102 1604.5 1095.9 1605.7 C1089.8 1607 1080.2 1606.7 1077.7 1606.8" fill="none" stroke="#000" stroke-width="1.6"/>
<path d="M1209.6 1410.4 L1300 1342.4" fill="none" stroke="#000" stroke-width="1.7"/>
<path d="M1209.6 1410.4 L1244 1433.9" fill="none" stroke="#000" stroke-width="1.7"/>
<path d="M1196 1320 L1248.8 1367.7" fill="none" stroke="#000" stroke-width="1.7"/>
<path d="M1244 1433.9 L1232.8 1439.2" fill="none" stroke="#000" stroke-width="1.4"/>
<path d="M996 1641.6 C1003.2 1640.2 1031.4 1635.5 1050 1631.3 C1068.6 1627.1 1112.5 1616.5 1135.3 1610 C1158.1 1603.5 1197.9 1590.3 1220.7 1582.3 C1243.5 1574.3 1283.3 1559.6 1306 1550.3 C1328.7 1541 1372.4 1521.2 1391.3 1512.5 C1410.2 1503.8 1437.5 1490.7 1448 1485.2 C1458.5 1479.7 1467.4 1473.4 1470.4 1471.6" fill="none" stroke="#000" stroke-width="3"/>
<path d="M1010 1634 C1015.3 1632.9 1024.8 1632.6 1050 1626 C1075.2 1619.4 1163.4 1595.3 1199 1584.4 C1234.6 1573.5 1289.9 1554.4 1316.7 1543.9 C1343.5 1533.4 1380.4 1515.9 1400 1506 C1419.6 1496.1 1455.5 1474.8 1464 1470" fill="none" stroke="#000" stroke-width="1.3"/>
<path d="M1073.5 1669.7 C1084.6 1666.6 1134.2 1653.1 1156.7 1646.3 C1179.2 1639.5 1219.3 1626.5 1242 1618.5 C1264.7 1610.5 1306.2 1595 1327.3 1586.5 C1348.4 1578 1383.6 1563.6 1400 1554.8 C1416.4 1546 1437.2 1529.3 1450 1520.4 C1462.8 1511.5 1482.8 1499 1496 1488.4 C1509.2 1477.8 1541.8 1447.5 1548.8 1441.2" fill="none" stroke="#000" stroke-width="1.7"/>
<path d="M1075.6 1686.8 C1082.1 1685.1 1105.4 1679.7 1124.7 1674 C1144 1668.3 1197.3 1651.2 1220.7 1644.1 C1244.1 1637 1282.3 1626.7 1300 1620.7 C1317.7 1614.7 1339.1 1605.6 1353.3 1599.3 C1367.5 1593 1392.5 1581.4 1406.7 1573.7 C1420.9 1566 1448.6 1549.4 1460 1541.7 C1471.4 1534 1485.1 1522 1492 1516.1 C1498.9 1510.2 1504.3 1504.4 1512 1497.5 C1519.7 1490.6 1544.6 1468.8 1549.6 1464.4" fill="none" stroke="#000" stroke-width="2.4"/>
<path d="M1143.9 1670.8 C1151.3 1672.1 1183.4 1678.3 1199.3 1680.4 C1215.2 1682.5 1244.8 1686 1263.3 1686.8 C1281.8 1687.6 1319.5 1687.5 1338 1686.4 C1356.5 1685.3 1390 1680.2 1402 1678.3 C1414 1676.4 1420 1674 1428 1671.9 C1436 1669.8 1454.4 1665.4 1462.1 1662.3 C1469.8 1659.2 1479.9 1652.5 1485.6 1648.4 C1491.3 1644.3 1500.6 1636 1504.8 1631.3 C1509 1626.6 1515.5 1615.6 1517.2 1613.2" fill="none" stroke="#000" stroke-width="2.8"/>
<path d="M1126.8 1676.1 C1133.6 1679.5 1162.6 1695.4 1178 1701.7 C1193.4 1708 1224.9 1718.7 1242 1723.1 C1259.1 1727.5 1293.2 1732.7 1306 1734.8 C1318.8 1736.9 1333.7 1738.5 1338 1739.1" fill="none" stroke="#000" stroke-width="1.7"/>
<path d="M1103.3 1683.6 C1110.4 1686.9 1141 1702.3 1156.7 1708.1 C1172.4 1713.9 1203.6 1723.3 1220.7 1727.3 C1237.8 1731.3 1268.7 1736.1 1284.7 1738 C1300.7 1739.9 1333.1 1740.8 1340.5 1741.2" fill="none" stroke="#000" stroke-width="1.8"/>
<path d="M1340.5 1741.2 C1347.9 1740.9 1381.5 1740.7 1396 1739.1 C1410.5 1737.5 1435.4 1732.9 1449.3 1729.5 C1463.2 1726.1 1490.3 1718.6 1500.5 1713.5 C1510.7 1708.4 1520.8 1696.9 1526.1 1691.1 C1531.4 1685.3 1538.7 1672.6 1540.6 1669.7" fill="none" stroke="#000" stroke-width="2.8"/>
<path d="M1062.8 1682.5 C1066.8 1683.9 1080.2 1688.6 1092.7 1693.2 C1105.2 1697.8 1139.6 1711.6 1156.7 1716.7 C1173.8 1721.8 1200.8 1728.4 1220.7 1731.6 C1240.6 1734.8 1294.6 1739.4 1306 1740.6" fill="none" stroke="#000" stroke-width="1.7"/>
<path d="M1050 1671.9 L1059.6 1671.9 L1060.7 1681.5 L1073.5 1685.7 L1073.5 1669.7 L1059.6 1671.9" fill="none" stroke="#000" stroke-width="1.6"/>
<path d="M1092.7 1693.2 L1103.3 1683.6" fill="none" stroke="#000" stroke-width="1.6"/>
<path d="M1511.2 1498 C1511.9 1504.2 1514.4 1522 1515.5 1535.3 C1516.5 1548.7 1517.3 1565 1517.6 1578 C1517.9 1591 1517.2 1607.3 1517.2 1613.2" fill="none" stroke="#000" stroke-width="2.2"/>
<path d="M1517.2 1613.2 C1519.4 1617.3 1526.5 1628.3 1530.4 1637.7 C1534.3 1647.2 1538.9 1664.4 1540.6 1669.7" fill="none" stroke="#000" stroke-width="3.6"/>
<path d="M1862 1380 C1864.7 1385 1879 1410.9 1882 1417.3 C1885 1423.7 1885 1424.8 1884.7 1428 C1884.3 1431.2 1881.8 1438 1879.3 1441.3 C1876.8 1444.7 1867.8 1451.7 1866 1453.3" fill="none" stroke="#000" stroke-width="1.7"/>
<path d="M1866 1453.3 C1858.3 1459.9 1803.3 1508.9 1788.7 1518.7 C1774 1528.4 1732.4 1543.1 1719.3 1550.7 C1706.3 1558.3 1671.6 1585.1 1658 1594.7 C1644.4 1604.3 1595.1 1639.2 1583.3 1646.7 C1571.6 1654.1 1544.9 1667.1 1540.7 1669.3" fill="none" stroke="#000" stroke-width="1.7"/>
<path d="M1754 1190 L1760 1191.3 L1777.3 1193.3 L1782 1196.7" fill="none" stroke="#000" stroke-width="1.7"/>
<path d="M1782 1196.7 C1783.3 1198.8 1788.9 1206.6 1792 1212.7 C1795.1 1218.7 1803.2 1236.7 1805.3 1242 C1807.5 1247.3 1807.8 1250.2 1808 1252.7 C1808.2 1255.2 1807.1 1259.1 1806.7 1260.7 C1806.2 1262.3 1804.9 1264.1 1804.7 1264.7" fill="none" stroke="#000" stroke-width="3.4"/>
<path d="M1780 1198.7 C1782 1202.1 1791.4 1218.5 1794.7 1224.7 C1798 1230.8 1803.2 1240.9 1804.7 1244.7 C1806.2 1248.4 1805.8 1251.6 1806 1252.7" fill="none" stroke="#000" stroke-width="1.5"/>
<path d="M1804.7 1264.7 L1812 1280.7 L1862 1380.4" fill="none" stroke="#000" stroke-width="2.4"/>
<path d="M1754 1190 L1758 1196 L1764 1210 L1774.7 1228.7 L1771.3 1235.3" fill="none" stroke="#000" stroke-width="3"/>
<path d="M1767.3 1202 L1770.7 1198.7 L1776.7 1199.6 L1784.7 1211.3 L1782 1215.3 L1775.3 1216.7 L1767.3 1202" fill="none" stroke="#000" stroke-width="2.2"/>
<path d="M1770 1204 L1774.7 1202 L1782 1212.7 L1776 1214.7 L1770 1204" fill="none" stroke="#000" stroke-width="1.4"/>
<path d="M1484 1393.2 L1710.7 1240" fill="none" stroke="#000" stroke-width="1.7"/>
<path d="M1710.7 1240 L1706.7 1224.7 L1751.3 1193.3 L1754 1190" fill="none" stroke="#000" stroke-width="1.7"/>
<path d="M1488.8 1397.2 L1710.7 1246.7" fill="none" stroke="#000" stroke-width="1.7"/>
<path d="M1710.7 1246.7 C1714.6 1244.1 1733.8 1231.2 1740 1227.3 C1746.2 1223.5 1754.2 1220 1757.3 1218 C1760.4 1216 1762.5 1212.8 1763.3 1212" fill="none" stroke="#000" stroke-width="1.7"/>
<path d="M1495.2 1419.6 L1590 1355" fill="none" stroke="#000" stroke-width="3"/>
<path d="M1590 1355 L1772 1234" fill="none" stroke="#000" stroke-width="2.4"/>
<path d="M1532.8 1419.9 L1792 1221.3" fill="none" stroke="#000" stroke-width="1.6"/>
<path d="M1531.2 1422.4 L1707.3 1292 L1709.3 1293.3" fill="none" stroke="#000" stroke-width="1.6"/>
<path d="M1535 1424.6 L1709.3 1293.3 L1792 1232.7 L1795.3 1227.3" fill="none" stroke="#000" stroke-width="1.6"/>
<path d="M1552 1439.6 L1804.7 1247.3" fill="none" stroke="#000" stroke-width="1.7"/>
<path d="M1549.6 1464.4 L1804.7 1264.7" fill="none" stroke="#000" stroke-width="1.7"/>
<path d="M1484 1393.2 L1488.8 1397.2 L1492.8 1419.6 L1495.2 1420.4 L1498.4 1427.6" fill="none" stroke="#000" stroke-width="2"/>
<path d="M1495.2 1419.9 L1531.2 1420.9" fill="none" stroke="#000" stroke-width="2.6"/>
<path d="M1498.4 1427.3 L1526.4 1426" fill="none" stroke="#000" stroke-width="3"/>
<path d="M1531.2 1420.9 L1552 1439.6 L1549.6 1464.4" fill="none" stroke="#000" stroke-width="1.7"/>
<path d="M1528 1422.8 L1548.8 1441.2" fill="none" stroke="#000" stroke-width="1.6"/>
<path d="M1498.4 1427.6 L1484.8 1446.8 L1470.4 1464.4 L1464 1470" fill="none" stroke="#000" stroke-width="1.7"/>
<path d="M1526.4 1426 L1470.4 1469.2" fill="none" stroke="#000" stroke-width="1.6"/>
<path d="M1528.8 1424.1 L1476.8 1469.2" fill="none" stroke="#000" stroke-width="1.6"/>
<path d="M224.9 1993.9 C218.2 1992.6 189.7 1987.1 180.1 1985.3 C170.5 1983.6 166.1 1982.1 160.9 1982.1 C155.8 1982.1 149.8 1983.6 146 1985.3 C142.2 1987.1 143.7 1986.2 135.3 1993.9 C127 2001.5 98.5 2028.2 90.5 2036.5 C82.5 2044.9 83.5 2045.5 82 2049.3 C80.5 2053.2 80 2058.3 80.3 2062.1 C80.6 2066 82.3 2071.7 84.1 2074.9 C86 2078.1 81.8 2077.5 92.7 2083.5 C103.5 2089.4 140.7 2108.5 156.7 2114.4 C172.7 2120.3 186.5 2120.7 199.3 2122.9 C212.1 2125.2 232.4 2128.5 242 2129.3 C251.6 2130.1 256.9 2129.4 263.3 2128.3 C269.7 2127.1 278.3 2124.6 284.7 2121.9 C291.1 2119.1 296.4 2118.1 306 2110.1 C315.6 2102.1 340.7 2075.4 348.7 2068.5 C356.7 2061.7 356.1 2065 359.3 2064.3 C362.5 2063.6 359.8 2062.2 370 2063.8 C380.2 2065.5 419 2073.6 427.6 2075.4" fill="none" stroke="#000" stroke-width="1.4"/>
<path d="M224.9 2016.3 C218.5 2014.8 191.5 2008.5 182.3 2006.7 C173 2004.8 167.5 2003.9 163.1 2004.1 C158.6 2004.3 160.4 2001.3 152.4 2007.7 C144.4 2014.2 117.3 2039.7 109.7 2047.2 C102.2 2054.7 103.2 2055.1 102.3 2057.9 C101.3 2060.6 102.2 2063.6 103.3 2065.3 C104.5 2067.1 101.1 2065.4 109.7 2069.6 C118.4 2073.8 147.5 2088.6 160.9 2093.1 C174.4 2097.5 187.2 2097.3 199.3 2099.5 C211.5 2101.6 233 2106.2 242 2107.4 C251 2108.5 253.3 2108.2 259.1 2107.4 C264.8 2106.5 275 2103.7 280.4 2101.6 C285.8 2099.5 286.1 2100.9 295.3 2093.1 C304.6 2085.2 333.3 2056.8 342.3 2049.3 C351.2 2041.9 351.2 2044.6 355.1 2043.4 C358.9 2042.1 364.3 2041.2 367.9 2041.2 C371.4 2041.2 368.6 2041.4 378.5 2043.4 C388.5 2045.3 425.7 2052.4 434 2054" fill="none" stroke="#000" stroke-width="1.4"/>
<path d="M228.1 1993.9 L350.8 1950.1" fill="none" stroke="#000" stroke-width="1.4"/>
<path d="M350.8 1950.1 C352 1950.3 356.3 1949.6 358.3 1951.2 C360.2 1952.8 362.2 1956.9 362.5 1959.7 C362.9 1962.6 361.5 1966.3 360.4 1968.3 C359.3 1970.2 356.8 1970.9 356.1 1971.5" fill="none" stroke="#000" stroke-width="1.4"/>
<path d="M356.1 1971.5 L244.1 2012" fill="none" stroke="#000" stroke-width="1.4"/>
<path d="M224.9 1993.9 C226 1995.6 231.3 2000.8 231.3 2004.5 C231.3 2008.3 226 2014.3 224.9 2016.3" fill="none" stroke="#000" stroke-width="1.2"/>
<path d="M235.6 1992.8 C237.2 1994.6 244 2000.3 245.2 2003.5 C246.4 2006.7 243.4 2010.6 243.1 2012" fill="none" stroke="#000" stroke-width="1.2"/>
<path d="M224.9 2016.3 L233.5 2016.3 L243.1 2012" fill="none" stroke="#000" stroke-width="1.2"/>
<ellipse cx="356.6" cy="1966.8" rx="2.3" ry="2.8" fill="none" stroke="#000" stroke-width="1.8"/>
<ellipse cx="249.9" cy="2005.2" rx="2.3" ry="2.8" fill="none" stroke="#000" stroke-width="1.8"/>
<path d="M435.6 2053.6 L555.6 2009.4" fill="none" stroke="#000" stroke-width="1.4"/>
<path d="M555.6 2009.4 C557 2009.9 562.3 2009.7 564.2 2012 C566.2 2014.3 567.7 2020 567.4 2023.2 C567.2 2026.4 563.4 2029.9 562.6 2031.2" fill="none" stroke="#000" stroke-width="1.4"/>
<path d="M562.6 2031.2 L438.8 2075" fill="none" stroke="#000" stroke-width="1.4"/>
<path d="M376.4 2042.9 C377.3 2044.5 381.9 2049 381.7 2052.5 C381.6 2056 376.4 2062 375.3 2063.8" fill="none" stroke="#000" stroke-width="1.2"/>
<path d="M434 2054 C434.4 2055.7 437.4 2060.7 436.6 2064.3 C435.7 2067.8 430 2073.5 428.7 2075.4" fill="none" stroke="#000" stroke-width="1.2"/>
<path d="M446.2 2052 C446.8 2053.6 449.7 2058.2 450 2061.6 C450.3 2065 448.1 2070.4 447.8 2072.2" fill="none" stroke="#000" stroke-width="1.2"/>
<path d="M427.6 2075.4 L436.1 2074.5" fill="none" stroke="#000" stroke-width="1.2"/>
<ellipse cx="560.4" cy="2023.2" rx="2.2" ry="2.9" fill="none" stroke="#000" stroke-width="1.8"/>
<ellipse cx="454.2" cy="2061.6" rx="2.2" ry="2.9" fill="none" stroke="#000" stroke-width="1.8"/>
<path d="M184.4 1848.8 L184.4 1981.6" fill="none" stroke="#000" stroke-width="1.4"/>
<path d="M447.2 1796.5 L706.4 1704.4 L719.2 1712.9 L717.1 1725.1 L707.5 1729.3 L471.7 1811.9 L454.7 1805.1 L448.3 1801.9" fill="none" stroke="#000" stroke-width="1.7"/>
<path d="M447.2 1796.5 L451.5 1797.6" fill="none" stroke="#000" stroke-width="1.6"/>
<path d="M448.3 1802.5 C447.2 1803.6 444.9 1807.1 441.9 1809.3 C438.8 1811.5 433.3 1812.9 430.1 1815.7 C426.9 1818.6 424.6 1822.5 422.7 1826.4 C420.7 1830.3 419.1 1837.1 418.4 1839.2" fill="none" stroke="#000" stroke-width="1.7"/>
<path d="M418.4 1839.2 L436.5 1855.8 L730.9 1817.4 L712.8 1800.8 L707.5 1729.3" fill="none" stroke="#000" stroke-width="1.7"/>
<path d="M419.5 1839.8 L713.9 1800.8" fill="none" stroke="#000" stroke-width="1.7"/>
<ellipse cx="442.5" cy="1820" rx="4.3" ry="6.4" fill="none" stroke="#000" stroke-width="1.6" transform="rotate(30 442.5 1820)"/>
<ellipse cx="443.1" cy="1820.4" rx="2.6" ry="4.7" fill="none" stroke="#000" stroke-width="1.2" transform="rotate(30 443.1 1820.4)"/>
<ellipse cx="662.7" cy="1791.6" rx="4.3" ry="6.4" fill="none" stroke="#000" stroke-width="1.6" transform="rotate(30 662.7 1791.6)"/>
<ellipse cx="663.3" cy="1792.1" rx="2.6" ry="4.7" fill="none" stroke="#000" stroke-width="1.2" transform="rotate(30 663.3 1792.1)"/>
<ellipse cx="700" cy="1788.6" rx="5.5" ry="8.1" fill="none" stroke="#000" stroke-width="1.6" transform="rotate(30 700 1788.6)"/>
<ellipse cx="700.6" cy="1789.3" rx="3.4" ry="6" fill="none" stroke="#000" stroke-width="1.2" transform="rotate(30 700.6 1789.3)"/>
<path d="M621.1 1758.6 C621.8 1759.3 623.6 1762.7 625.3 1762.8 C627.1 1762.9 630.1 1760.7 631.7 1759.2 C633.3 1757.7 634.4 1754.8 634.9 1753.9" fill="none" stroke="#000" stroke-width="1.6"/>
<path d="M689.3 1734.7 C690 1735.3 691.8 1738.4 693.6 1738.5 C695.4 1738.6 698.5 1736.3 700 1735.1 C701.5 1733.8 702.1 1731.7 702.6 1731" fill="none" stroke="#000" stroke-width="1.6"/>
<path d="M482.8 1714.4 L482.8 1774.1" fill="none" stroke="#000" stroke-width="1.6"/>
<path d="M633 1902.1 L633 1933.1" fill="none" stroke="#000" stroke-width="1.6"/>
<path d="M665.3 1925.3 L898.7 1833.9" fill="none" stroke="#000" stroke-width="1.7"/>
<path d="M898.7 1833.9 C900.9 1833.6 907.8 1831.6 912 1832 C916.2 1832.4 920.7 1833.3 924 1836 C927.3 1838.7 930.7 1846 932 1848" fill="none" stroke="#000" stroke-width="1.7"/>
<path d="M932 1848 L958.7 1942.7" fill="none" stroke="#000" stroke-width="1.7"/>
<path d="M958.7 1942.7 C958.5 1944 959.2 1948.8 957.9 1950.7 C956.5 1952.5 951.9 1953.3 950.7 1953.9" fill="none" stroke="#000" stroke-width="1.7"/>
<path d="M950.7 1953.9 L654.7 1990.7 L652.3 1989.9" fill="none" stroke="#000" stroke-width="2.4"/>
<path d="M652.3 1991.7 L637.5 1985.3 L637.3 1982.1 L640.5 1979.5 L658.5 1978.4" fill="none" stroke="#000" stroke-width="1.6"/>
<path d="M674.9 1933.3 L920 1836.5" fill="none" stroke="#000" stroke-width="1.7"/>
<path d="M665.6 1924.5 L664.9 1930.9 L674.7 1934.3" fill="none" stroke="#000" stroke-width="1.6"/>
<path d="M664.9 1930.9 C664.8 1931.5 663.2 1934.1 664.5 1935.2 C665.8 1936.3 672.7 1938.3 674.7 1939.5 C676.6 1940.6 678.4 1942.6 678.9 1943.7 C679.5 1944.9 679.4 1946.9 678.7 1948 C678 1949.1 675.3 1951.1 673.6 1952.3 C671.9 1953.4 667.6 1955.3 666.1 1956.5 C664.6 1957.7 663.3 1959.8 662.4 1961.3 C661.5 1962.9 660.3 1966 659.7 1968.3 C659.2 1970.5 658.7 1976.4 658.5 1978.4 C658.2 1980.4 658.4 1982.3 658.1 1983.2 C657.9 1984.1 656.7 1985 656.5 1985.3" fill="none" stroke="#000" stroke-width="1.6"/>
<path d="M640.5 1981.3 L653.3 1985.5 L657.6 1984.5" fill="none" stroke="#000" stroke-width="1.4"/>
<ellipse cx="683.2" cy="1964" rx="4.5" ry="6.2" fill="none" stroke="#000" stroke-width="1.5" transform="rotate(15 683.2 1964)"/>
<path d="M681.1 1960.8 L685.3 1967.2" fill="none" stroke="#000" stroke-width="1.2"/>
<path d="M679.5 1965.6 L686.9 1962.4" fill="none" stroke="#000" stroke-width="1.2"/>
<ellipse cx="860" cy="1894.7" rx="5.3" ry="8" fill="none" stroke="#000" stroke-width="1.6" transform="rotate(25 860 1894.7)"/>
<ellipse cx="860.8" cy="1895.5" rx="3.2" ry="5.9" fill="none" stroke="#000" stroke-width="1.2" transform="rotate(25 860.8 1895.5)"/>
<ellipse cx="925.3" cy="1868.8" rx="5.3" ry="8" fill="none" stroke="#000" stroke-width="1.6" transform="rotate(25 925.3 1868.8)"/>
<ellipse cx="926.1" cy="1869.6" rx="3.2" ry="5.9" fill="none" stroke="#000" stroke-width="1.2" transform="rotate(25 926.1 1869.6)"/>
<ellipse cx="904.5" cy="1936.8" rx="3.7" ry="5.9" fill="none" stroke="#000" stroke-width="1.6" transform="rotate(25 904.5 1936.8)"/>
<ellipse cx="905.1" cy="1937.3" rx="2.1" ry="4" fill="none" stroke="#000" stroke-width="1.2" transform="rotate(25 905.1 1937.3)"/>
<ellipse cx="943.2" cy="1934.7" rx="5.3" ry="7.5" fill="none" stroke="#000" stroke-width="1.6" transform="rotate(25 943.2 1934.7)"/>
<ellipse cx="810.9" cy="1841.1" rx="6.9" ry="9.9" fill="none" stroke="#000" stroke-width="1.5" transform="rotate(12 810.9 1841.1)"/>
<ellipse cx="813.3" cy="1840.5" rx="7.2" ry="9.9" fill="#fff" stroke="#000" stroke-width="1.5" transform="rotate(12 813.3 1840.5)"/>
<ellipse cx="816" cy="1841.6" rx="2.7" ry="3.2" fill="none" stroke="#000" stroke-width="2.2"/>
<path d="M817.3 1842.7 L838.7 1856" fill="none" stroke="#000" stroke-width="1.7"/>
<path d="M840 1857.3 L941.3 1930.7" fill="none" stroke="#000" stroke-width="1.6" stroke-dasharray="5 4"/>
<path d="M944 1934.7 L1002.7 1977.3" fill="none" stroke="#000" stroke-width="1.7"/>
<path d="M999.6 1981.7 L1032.9 2005.7" fill="none" stroke="#000" stroke-width="1.4"/>
<path d="M1005.8 1973 L1039.1 1997" fill="none" stroke="#000" stroke-width="1.4"/>
<path d="M999.6 1981.7 C999.7 1980.7 999.7 1977.4 1000.7 1975.9 C1001.8 1974.5 1004.9 1973.5 1005.8 1973" fill="none" stroke="#000" stroke-width="1.4"/>
<path d="M1000.4 1982.3 L1009.7 1975.8" fill="none" stroke="#000" stroke-width="0.9"/>
<path d="M1002.8 1984 L1012.1 1977.5" fill="none" stroke="#000" stroke-width="0.9"/>
<path d="M1005.2 1985.7 L1014.4 1979.2" fill="none" stroke="#000" stroke-width="0.9"/>
<path d="M1007.6 1987.4 L1016.8 1981" fill="none" stroke="#000" stroke-width="0.9"/>
<path d="M1009.9 1989.1 L1019.2 1982.7" fill="none" stroke="#000" stroke-width="0.9"/>
<path d="M1012.3 1990.9 L1021.6 1984.4" fill="none" stroke="#000" stroke-width="0.9"/>
<path d="M1014.7 1992.6 L1024 1986.1" fill="none" stroke="#000" stroke-width="0.9"/>
<path d="M1017.1 1994.3 L1026.3 1987.8" fill="none" stroke="#000" stroke-width="0.9"/>
<path d="M1019.5 1996 L1028.7 1989.5" fill="none" stroke="#000" stroke-width="0.9"/>
<path d="M1021.8 1997.7 L1031.1 1991.2" fill="none" stroke="#000" stroke-width="0.9"/>
<path d="M1024.2 1999.4 L1033.5 1993" fill="none" stroke="#000" stroke-width="0.9"/>
<path d="M1026.6 2001.1 L1035.9 1994.7" fill="none" stroke="#000" stroke-width="0.9"/>
<path d="M1029 2002.9 L1038.3 1996.4" fill="none" stroke="#000" stroke-width="0.9"/>
<path d="M1031.4 2004.6 L1040.6 1998.1" fill="none" stroke="#000" stroke-width="0.9"/>
<path d="M1033.9 2002.3 L1037.8 1993.7 L1044.3 1994.8 L1050.8 1999.4 L1053.5 2009.2 L1049.7 2017.8 L1043.1 2016.7 L1040.4 2007Z" fill="#fff" stroke="#000" stroke-width="1.5"/>
<path d="M1049.7 2017.8 L1043.1 2016.7 L1040.4 2007 L1044.2 1998.4 L1050.8 1999.4 L1053.5 2009.2Z" fill="#fff" stroke="#000" stroke-width="1.4"/>
<path d="M1037.8 1993.7 L1044.2 1998.4" fill="none" stroke="#000" stroke-width="1.2"/>
<path d="M1041.3 2020 L1041.9 2062.7" fill="none" stroke="#000" stroke-width="1.6"/>
<ellipse cx="633.3" cy="1947.1" rx="7" ry="9.8" fill="none" stroke="#000" stroke-width="1.5" transform="rotate(12 633.3 1947.1)"/>
<ellipse cx="635.7" cy="1946.7" rx="7.3" ry="9.8" fill="#fff" stroke="#000" stroke-width="1.5" transform="rotate(12 635.7 1946.7)"/>
<ellipse cx="637.3" cy="1948" rx="2.6" ry="3.2" fill="none" stroke="#000" stroke-width="2.2"/>
<path d="M639.5 1950.1 L662.9 1960.8" fill="none" stroke="#000" stroke-width="2"/>
<path d="M685.3 1967.2 L732.3 1988" fill="none" stroke="#000" stroke-width="1.5"/>
<path d="M732.3 1994.1 L764.3 2010.1" fill="none" stroke="#000" stroke-width="1.4"/>
<path d="M737.1 1984.6 L769.1 2000.6" fill="none" stroke="#000" stroke-width="1.4"/>
<path d="M732.3 1994.1 C732.3 1993.1 731.7 1989.9 732.5 1988.3 C733.3 1986.7 736.3 1985.2 737.1 1984.6" fill="none" stroke="#000" stroke-width="1.4"/>
<path d="M733.3 1994.6 L741.4 1986.7" fill="none" stroke="#000" stroke-width="0.9"/>
<path d="M735.9 1995.9 L744.1 1988.1" fill="none" stroke="#000" stroke-width="0.9"/>
<path d="M738.6 1997.3 L746.7 1989.4" fill="none" stroke="#000" stroke-width="0.9"/>
<path d="M741.3 1998.6 L749.4 1990.7" fill="none" stroke="#000" stroke-width="0.9"/>
<path d="M743.9 1999.9 L752.1 1992.1" fill="none" stroke="#000" stroke-width="0.9"/>
<path d="M746.6 2001.3 L754.7 1993.4" fill="none" stroke="#000" stroke-width="0.9"/>
<path d="M749.3 2002.6 L757.4 1994.7" fill="none" stroke="#000" stroke-width="0.9"/>
<path d="M751.9 2003.9 L760.1 1996.1" fill="none" stroke="#000" stroke-width="0.9"/>
<path d="M754.6 2005.3 L762.7 1997.4" fill="none" stroke="#000" stroke-width="0.9"/>
<path d="M757.3 2006.6 L765.4 1998.7" fill="none" stroke="#000" stroke-width="0.9"/>
<path d="M759.9 2007.9 L768.1 2000.1" fill="none" stroke="#000" stroke-width="0.9"/>
<path d="M762.6 2009.3 L770.7 2001.4" fill="none" stroke="#000" stroke-width="0.9"/>
<path d="M764.7 2008.3 L767.5 1999.3 L773.7 1998.7 L780.5 2002.1 L784 2010.5 L781.2 2019.6 L774.9 2020.2 L771.5 2011.7Z" fill="#fff" stroke="#000" stroke-width="1.5"/>
<path d="M781.2 2019.6 L774.9 2020.2 L771.5 2011.7 L774.3 2002.7 L780.5 2002.1 L784 2010.5Z" fill="#fff" stroke="#000" stroke-width="1.4"/>
<path d="M767.5 1999.3 L774.3 2002.7" fill="none" stroke="#000" stroke-width="1.2"/>
<path d="M771.5 2026.7 L771.5 2068" fill="none" stroke="#000" stroke-width="1.6"/>
<path d="M838.7 1960 L838.7 2093.3" fill="none" stroke="#000" stroke-width="1.6"/>
<path d="M812.8 1779.5 L812.8 1825.9" fill="none" stroke="#000" stroke-width="1.6"/>
<path d="M1113.9 858.1 L1080.8 838.5 L1068.4 827.2 L1084.3 832.7 L1117.3 852.3" fill="none" stroke="#000" stroke-width="1.6"/>
<path d="M1113.5 858.8 L1137.1 870.8" fill="none" stroke="#000" stroke-width="1.6"/>
<path d="M1117.7 851.6 L1141.3 863.6" fill="none" stroke="#000" stroke-width="1.6"/>
<ellipse cx="1139.2" cy="867.2" rx="1.9" ry="4.2" fill="#fff" stroke="#000" stroke-width="1.6" transform="rotate(30.7 1139.2 867.2)"/>
<path d="M1130.4 867.5 L1134.7 860.2" fill="none" stroke="#000" stroke-width="1.2"/>
<ellipse cx="1114.1" cy="854.3" rx="3.6" ry="10.8" fill="#fff" stroke="#000" stroke-width="1.6" transform="rotate(30.7 1114.1 854.3)"/>
<ellipse cx="1116.5" cy="855.8" rx="3.6" ry="10.8" fill="#fff" stroke="#000" stroke-width="1.6" transform="rotate(30.7 1116.5 855.8)"/>
<path d="M1137.1 870.8 L1114.4 859.4" fill="none" stroke="#000" stroke-width="1.6"/>
<path d="M1141.3 863.6 L1118.7 852.1" fill="none" stroke="#000" stroke-width="1.6"/>
<path d="M1114.4 859.4 C1114.4 858.6 1114 855.9 1114.7 854.7 C1115.4 853.5 1118 852.6 1118.7 852.1" fill="none" stroke="#000" stroke-width="1.6"/>
<path d="M1102.8 762.4 L1102.8 835.6" fill="none" stroke="#000" stroke-width="1.5"/>
<path d="M1153.2 874.4 L1227.5 914.6" fill="none" stroke="#000" stroke-width="1.7"/>
<path d="M1229 916 L1288 951" fill="none" stroke="#000" stroke-width="1.4" stroke-dasharray="5 4"/>
<path d="M1294.8 954.4 L1393.2 1011.2" fill="none" stroke="#000" stroke-width="1.7"/>
<ellipse cx="1398.6" cy="1022.2" rx="10.2" ry="13.8" fill="#fff" stroke="#000" stroke-width="1.6" transform="rotate(15 1398.6 1022.2)"/>
<ellipse cx="1397.4" cy="1022.8" rx="9" ry="13" fill="none" stroke="#000" stroke-width="1.2" transform="rotate(15 1397.4 1022.8)"/>
<ellipse cx="1399.6" cy="1022.4" rx="4" ry="5.8" fill="none" stroke="#000" stroke-width="1.5" transform="rotate(15 1399.6 1022.4)"/>
<ellipse cx="1399.6" cy="1022.4" rx="2" ry="3.4" fill="none" stroke="#000" stroke-width="1.2" transform="rotate(15 1399.6 1022.4)"/>
<path d="M1400.4 860.8 L1400.4 1000.8" fill="none" stroke="#000" stroke-width="1.5"/>
<path d="M1281.6 797.6 L1281.6 875.5" fill="none" stroke="#000" stroke-width="1.5"/>
<path d="M982 907.4 L1120 1019.6" fill="none" stroke="#000" stroke-width="1.5"/>
<path d="M878.1 967.3 L966.7 1118" fill="none" stroke="#000" stroke-width="1.5"/>
<path d="M1221.2 1044 L1221.2 1133.6" fill="none" stroke="#000" stroke-width="1.5"/>
<path d="M1500.4 1024.8 L1298.8 1213.6" fill="none" stroke="#000" stroke-width="1.5"/>
<path d="M1550.7 1076.7 L1430.3 1188.4" fill="none" stroke="#000" stroke-width="1.5"/>
<path d="M1488.6 1251.2 L1488.6 1290.1 L1484.6 1306.8 L1480.6 1290.1 L1480.6 1251.2" fill="none" stroke="#000" stroke-width="1.6"/>
<path d="M1488.6 1251.2 L1488.6 1224" fill="none" stroke="#000" stroke-width="1.6"/>
<path d="M1480.6 1251.2 L1480.6 1224" fill="none" stroke="#000" stroke-width="1.6"/>
<ellipse cx="1484.6" cy="1224" rx="1.8" ry="4" fill="#fff" stroke="#000" stroke-width="1.6" transform="rotate(-90 1484.6 1224)"/>
<path d="M1488.6 1231.6 L1480.6 1231.6" fill="none" stroke="#000" stroke-width="1.2"/>
<ellipse cx="1484.6" cy="1252.5" rx="2.6" ry="11.2" fill="#fff" stroke="#000" stroke-width="1.6" transform="rotate(-90 1484.6 1252.5)"/>
<ellipse cx="1484.6" cy="1250.4" rx="2.6" ry="11.2" fill="#fff" stroke="#000" stroke-width="1.6" transform="rotate(-90 1484.6 1250.4)"/>
<path d="M1488.6 1224 L1488.6 1250.4" fill="none" stroke="#000" stroke-width="1.6"/>
<path d="M1480.6 1224 L1480.6 1250.4" fill="none" stroke="#000" stroke-width="1.6"/>
<path d="M1488.6 1250.4 C1487.9 1250.8 1485.9 1252.4 1484.6 1252.4 C1483.2 1252.4 1481.2 1250.8 1480.6 1250.4" fill="none" stroke="#000" stroke-width="1.6"/>
<path d="M1500 1246.8 L1532.8 1246.8" fill="none" stroke="#000" stroke-width="1.5"/>
<path d="M1679.2 1103.4 V1113.2 Q1679.2 1117.2 1683.4 1117.2 H1693.8 Q1698 1117.2 1698 1113.2 V1103.4" fill="#fff" stroke="#000" stroke-width="1.4" stroke-dasharray="1.3 1.1"/>
<ellipse cx="1688.6" cy="1103.9" rx="9.4" ry="5.5" fill="#fff" stroke="#000" stroke-width="1.5"/>
<ellipse cx="1688.6" cy="1103.9" rx="5.8" ry="3.4" fill="none" stroke="#000" stroke-width="1.3"/>
<path d="M1687.6 1100.9 L1687.6 1107.4" fill="none" stroke="#000" stroke-width="1.2"/>
<rect x="1683.4" y="1117.2" width="10.4" height="33.2" fill="#fff" stroke="#000" stroke-width="1.4"/>
<path d="M1683.4 1119.2 L1693.8 1119.2" fill="none" stroke="#000" stroke-width="1"/>
<path d="M1683.4 1121.5 L1693.8 1121.5" fill="none" stroke="#000" stroke-width="1"/>
<path d="M1683.4 1123.8 L1693.8 1123.8" fill="none" stroke="#000" stroke-width="1"/>
<path d="M1683.4 1126.1 L1693.8 1126.1" fill="none" stroke="#000" stroke-width="1"/>
<path d="M1683.4 1128.4 L1693.8 1128.4" fill="none" stroke="#000" stroke-width="1"/>
<path d="M1683.4 1130.7 L1693.8 1130.7" fill="none" stroke="#000" stroke-width="1"/>
<path d="M1683.4 1133 L1693.8 1133" fill="none" stroke="#000" stroke-width="1"/>
<path d="M1683.4 1135.3 L1693.8 1135.3" fill="none" stroke="#000" stroke-width="1"/>
<path d="M1683.4 1137.6 L1693.8 1137.6" fill="none" stroke="#000" stroke-width="1"/>
<path d="M1683.4 1139.9 L1693.8 1139.9" fill="none" stroke="#000" stroke-width="1"/>
<path d="M1683.4 1142.2 L1693.8 1142.2" fill="none" stroke="#000" stroke-width="1"/>
<path d="M1683.4 1144.5 L1693.8 1144.5" fill="none" stroke="#000" stroke-width="1"/>
<path d="M1683.4 1146.8 L1693.8 1146.8" fill="none" stroke="#000" stroke-width="1"/>
<path d="M1683.4 1149.1 L1693.8 1149.1" fill="none" stroke="#000" stroke-width="1"/>
<path d="M1683.4 1150.4 L1685.4 1152.4 L1691.8 1152.4 L1693.8 1150.4" fill="none" stroke="#000" stroke-width="1.4"/>
<path d="M1688.6 1119.2 L1688.6 1150.4" fill="none" stroke="#000" stroke-width="1"/>
<path d="M1719.2 1129.4 V1138 Q1719.2 1142 1723 1142 H1733 Q1736.8 1142 1736.8 1138 V1129.4" fill="#fff" stroke="#000" stroke-width="1.4" stroke-dasharray="1.3 1.1"/>
<ellipse cx="1728" cy="1129.9" rx="8.8" ry="5.5" fill="#fff" stroke="#000" stroke-width="1.5"/>
<ellipse cx="1728" cy="1129.9" rx="5.5" ry="3.4" fill="none" stroke="#000" stroke-width="1.3"/>
<path d="M1727 1126.9 L1727 1133.4" fill="none" stroke="#000" stroke-width="1.2"/>
<rect x="1723" y="1142" width="10" height="33.6" fill="#fff" stroke="#000" stroke-width="1.4"/>
<path d="M1723 1144 L1733 1144" fill="none" stroke="#000" stroke-width="1"/>
<path d="M1723 1146.3 L1733 1146.3" fill="none" stroke="#000" stroke-width="1"/>
<path d="M1723 1148.6 L1733 1148.6" fill="none" stroke="#000" stroke-width="1"/>
<path d="M1723 1150.9 L1733 1150.9" fill="none" stroke="#000" stroke-width="1"/>
<path d="M1723 1153.2 L1733 1153.2" fill="none" stroke="#000" stroke-width="1"/>
<path d="M1723 1155.5 L1733 1155.5" fill="none" stroke="#000" stroke-width="1"/>
<path d="M1723 1157.8 L1733 1157.8" fill="none" stroke="#000" stroke-width="1"/>
<path d="M1723 1160.1 L1733 1160.1" fill="none" stroke="#000" stroke-width="1"/>
<path d="M1723 1162.4 L1733 1162.4" fill="none" stroke="#000" stroke-width="1"/>
<path d="M1723 1164.7 L1733 1164.7" fill="none" stroke="#000" stroke-width="1"/>
<path d="M1723 1167 L1733 1167" fill="none" stroke="#000" stroke-width="1"/>
<path d="M1723 1169.3 L1733 1169.3" fill="none" stroke="#000" stroke-width="1"/>
<path d="M1723 1171.6 L1733 1171.6" fill="none" stroke="#000" stroke-width="1"/>
<path d="M1723 1173.9 L1733 1173.9" fill="none" stroke="#000" stroke-width="1"/>
<path d="M1723 1175.6 L1725 1177.6 L1731 1177.6 L1733 1175.6" fill="none" stroke="#000" stroke-width="1.4"/>
<path d="M1728 1144 L1728 1175.6" fill="none" stroke="#000" stroke-width="1"/>
<path d="M1700 1113.2 L1716.8 1126.4" fill="none" stroke="#000" stroke-width="1.5"/>
<path d="M1740 1133.6 L1762.8 1133.6" fill="none" stroke="#000" stroke-width="1.5"/>
<ellipse cx="732.8" cy="1514.8" rx="9.6" ry="5.1" fill="#fff" stroke="#000" stroke-width="1.6" transform="rotate(-15 732.8 1514.8)"/>
<ellipse cx="732.2" cy="1517.5" rx="9" ry="4.5" fill="none" stroke="#000" stroke-width="1.4" transform="rotate(-15 732.2 1517.5)"/>
<path d="M732.5 1522.3 L734.7 1534.8 L740.8 1533.5 L738.6 1521.7" fill="none" stroke="#000" stroke-width="1.6"/>
<path d="M733.8 1530 L739.8 1528.7" fill="none" stroke="#000" stroke-width="1.2"/>
<path d="M728 1516.4 C728.8 1516.7 731.3 1518.4 732.8 1518 C734.3 1517.6 736.5 1514.7 737.3 1514" fill="none" stroke="#000" stroke-width="1.3"/>
<path d="M680.8 1412.4 L734.4 1512.4" fill="none" stroke="#000" stroke-width="2.2"/>
<path d="M738.4 1538 L738.4 1564.4" fill="none" stroke="#000" stroke-width="1.3" stroke-dasharray="1.3 1.5"/>
<path d="M669.1 1468.9 L719.2 1548.4" fill="none" stroke="#000" stroke-width="1.8"/>
<path d="M624 1575.6 L712.8 1640.4" fill="none" stroke="#000" stroke-width="2.2"/>
<ellipse cx="720" cy="1648.1" rx="6.1" ry="9" fill="#fff" stroke="#000" stroke-width="1.6" transform="rotate(-35 720 1648.1)"/>
<ellipse cx="722.2" cy="1646.8" rx="5.8" ry="8.6" fill="#fff" stroke="#000" stroke-width="1.4" transform="rotate(-35 722.2 1646.8)"/>
<path d="M725.6 1642 L735.2 1635.6" fill="none" stroke="#000" stroke-width="1.6"/>
<path d="M728.8 1647.6 L738.4 1640.7" fill="none" stroke="#000" stroke-width="1.6"/>
<ellipse cx="737" cy="1638.2" rx="1.9" ry="3.2" fill="#fff" stroke="#000" stroke-width="1.5" transform="rotate(-35 737 1638.2)"/>
<path d="M742.1 1636.9 L780.8 1602" fill="none" stroke="#000" stroke-width="1.7"/>
<path d="M786.4 1597.2 L794.4 1591.6" fill="none" stroke="#000" stroke-width="1.7"/>
<text transform="translate(1792.7 262.3) scale(1 1.05)" font-size="41">14</text>
<text transform="translate(1873.2 243.6) scale(1 1.05)" font-size="41">13</text>
<text transform="translate(2040.2 250.8) scale(1 1.05)" font-size="41">11</text>
<text transform="translate(1640.8 497.2) scale(1 1.05)" font-size="41">10</text>
<text transform="translate(1093.3 758) scale(1 1.05)" font-size="41">8</text>
<text transform="translate(1268.2 786.8) scale(1 1.05)" font-size="41">1</text>
<text transform="translate(1387 856.4) scale(1 1.05)" font-size="41">6</text>
<text transform="translate(959.4 914.8) scale(1 1.05)" font-size="41">3</text>
<text transform="translate(860.1 962.8) scale(1 1.05)" font-size="41">4</text>
<text transform="translate(1501 1034.8) scale(1 1.05)" font-size="41">9</text>
<text transform="translate(1558.6 1087.5) scale(1 1.05)" font-size="41">2</text>
<text transform="translate(1766.5 1148.1) scale(1 1.05)" font-size="41">23</text>
<text transform="translate(1537.2 1263) scale(1 1.05)" font-size="41">12</text>
<text transform="translate(1209.8 1170.6) scale(1 1.05)" font-size="41">5</text>
<text transform="translate(666.6 1412.1) scale(1 1.05)" font-size="41">8</text>
<text transform="translate(649.9 1477.5) scale(1 1.05)" font-size="41">7</text>
<text transform="translate(609.6 1576.3) scale(1 1.05)" font-size="41">8</text>
<text transform="translate(461.7 1708.4) scale(1 1.05)" font-size="41">17</text>
<text transform="translate(788.5 1775.7) scale(1 1.05)" font-size="41">21</text>
<text transform="translate(163.2 1842.6) scale(1 1.05)" font-size="41">15</text>
<text transform="translate(609.2 1895.5) scale(1 1.05)" font-size="41">19</text>
<text transform="translate(747.9 2104.8) scale(1 1.05)" font-size="41">18</text>
<text transform="translate(816.5 2127.5) scale(1 1.05)" font-size="41">16</text>
<text transform="translate(1017.9 2102.8) scale(1 1.05)" font-size="41">20</text>
<text transform="translate(6.9 2233.3) scale(1 1.05)" font-size="28">31L1028</text>
</svg>
</body></html>
